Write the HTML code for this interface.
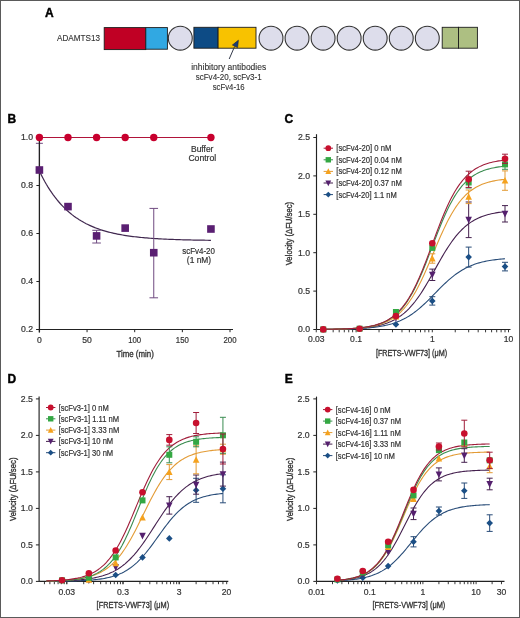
<!DOCTYPE html>
<html><head><meta charset="utf-8"><style>
html,body{margin:0;padding:0;background:#fff;overflow:hidden;}
svg{display:block;font-family:"Liberation Sans", sans-serif;will-change:transform;}
text{stroke:#333;stroke-width:0.2px;}
</style></head><body>
<svg width="520" height="618" viewBox="0 0 520 618">
<rect x="0" y="0" width="520" height="618" fill="#fff"/>
<text x="44.90" y="16.80" font-size="12" text-anchor="start" font-weight="bold" fill="#000" style="stroke:#000;stroke-width:0.4px">A</text>
<text x="57.00" y="40.90" font-size="8.6" text-anchor="start" font-weight="normal" fill="#333" textLength="43" lengthAdjust="spacingAndGlyphs" style="stroke-width:0.12px">ADAMTS13</text>
<rect x="104.20" y="27.60" width="41.60" height="22.00" fill="#C00024" stroke="#1c1c1c" stroke-width="0.9"/>
<rect x="145.80" y="27.60" width="21.60" height="21.60" fill="#31A8E2" stroke="#1c1c1c" stroke-width="0.9"/>
<circle cx="180.30" cy="38.15" r="11.95" fill="#DDDDEB" stroke="#333" stroke-width="1.1"/>
<rect x="193.90" y="27.30" width="24.20" height="20.90" fill="#0D4B85" stroke="#1c1c1c" stroke-width="0.9"/>
<rect x="218.10" y="27.30" width="37.90" height="20.90" fill="#F8C200" stroke="#1c1c1c" stroke-width="0.9"/>
<circle cx="271.00" cy="38.15" r="11.95" fill="#DDDDEB" stroke="#333" stroke-width="1.1"/>
<circle cx="297.05" cy="38.15" r="11.95" fill="#DDDDEB" stroke="#333" stroke-width="1.1"/>
<circle cx="323.10" cy="38.15" r="11.95" fill="#DDDDEB" stroke="#333" stroke-width="1.1"/>
<circle cx="349.15" cy="38.15" r="11.95" fill="#DDDDEB" stroke="#333" stroke-width="1.1"/>
<circle cx="375.20" cy="38.15" r="11.95" fill="#DDDDEB" stroke="#333" stroke-width="1.1"/>
<circle cx="401.25" cy="38.15" r="11.95" fill="#DDDDEB" stroke="#333" stroke-width="1.1"/>
<circle cx="427.30" cy="38.15" r="11.95" fill="#DDDDEB" stroke="#333" stroke-width="1.1"/>
<rect x="442.20" y="27.30" width="16.30" height="20.90" fill="#ADBF82" stroke="#1c1c1c" stroke-width="0.9"/>
<rect x="458.50" y="27.30" width="18.90" height="20.90" fill="#ADBF82" stroke="#1c1c1c" stroke-width="0.9"/>
<line x1="229.20" y1="59.00" x2="234.60" y2="46.50" stroke="#33394a" stroke-width="1"/>
<polygon points="238.4,40.2 232.4,45.0 237.6,47.6" fill="#1B3E7A" stroke="#1a2030" stroke-width="0.6"/>
<text x="228.70" y="70.00" font-size="8.6" text-anchor="middle" font-weight="normal" fill="#333" textLength="75" lengthAdjust="spacingAndGlyphs" style="stroke-width:0.12px">inhibitory antibodies</text>
<text x="228.70" y="79.60" font-size="8.6" text-anchor="middle" font-weight="normal" fill="#333" textLength="66" lengthAdjust="spacingAndGlyphs" style="stroke-width:0.12px">scFv4-20, scFv3-1</text>
<text x="228.70" y="89.60" font-size="8.6" text-anchor="middle" font-weight="normal" fill="#333" textLength="32" lengthAdjust="spacingAndGlyphs" style="stroke-width:0.12px">scFv4-16</text>
<text x="7.60" y="122.80" font-size="12" text-anchor="start" font-weight="bold" fill="#000" style="stroke:#000;stroke-width:0.4px">B</text>
<line x1="39.40" y1="143.30" x2="39.40" y2="170.00" stroke="#6f4a80" stroke-width="1"/>
<line x1="35.90" y1="143.30" x2="42.90" y2="143.30" stroke="#6f4a80" stroke-width="1"/>
<line x1="35.90" y1="170.00" x2="42.90" y2="170.00" stroke="#6f4a80" stroke-width="1"/>
<line x1="39.40" y1="137.30" x2="39.40" y2="332.50" stroke="#222" stroke-width="1.3"/>
<line x1="36.20" y1="329.50" x2="233.00" y2="329.50" stroke="#222" stroke-width="1.1"/>
<line x1="36.40" y1="137.50" x2="39.40" y2="137.50" stroke="#222" stroke-width="1"/>
<text x="33.10" y="140.30" font-size="8.6" text-anchor="end" font-weight="normal" fill="#333" textLength="12.1" lengthAdjust="spacingAndGlyphs" >1.0</text>
<line x1="36.40" y1="185.50" x2="39.40" y2="185.50" stroke="#222" stroke-width="1"/>
<text x="33.10" y="188.30" font-size="8.6" text-anchor="end" font-weight="normal" fill="#333" textLength="12.1" lengthAdjust="spacingAndGlyphs" >0.8</text>
<line x1="36.40" y1="233.50" x2="39.40" y2="233.50" stroke="#222" stroke-width="1"/>
<text x="33.10" y="236.30" font-size="8.6" text-anchor="end" font-weight="normal" fill="#333" textLength="12.1" lengthAdjust="spacingAndGlyphs" >0.6</text>
<line x1="36.40" y1="281.50" x2="39.40" y2="281.50" stroke="#222" stroke-width="1"/>
<text x="33.10" y="284.30" font-size="8.6" text-anchor="end" font-weight="normal" fill="#333" textLength="12.1" lengthAdjust="spacingAndGlyphs" >0.4</text>
<line x1="36.40" y1="329.50" x2="39.40" y2="329.50" stroke="#222" stroke-width="1"/>
<text x="33.10" y="332.30" font-size="8.6" text-anchor="end" font-weight="normal" fill="#333" textLength="12.1" lengthAdjust="spacingAndGlyphs" >0.2</text>
<line x1="39.40" y1="329.50" x2="39.40" y2="332.20" stroke="#222" stroke-width="1"/>
<text x="39.40" y="342.90" font-size="8.6" text-anchor="middle" font-weight="normal" fill="#333" >0</text>
<line x1="87.05" y1="329.50" x2="87.05" y2="332.20" stroke="#222" stroke-width="1"/>
<text x="87.05" y="342.90" font-size="8.6" text-anchor="middle" font-weight="normal" fill="#333" >50</text>
<line x1="134.70" y1="329.50" x2="134.70" y2="332.20" stroke="#222" stroke-width="1"/>
<text x="134.70" y="342.90" font-size="8.6" text-anchor="middle" font-weight="normal" fill="#333" textLength="13.0" lengthAdjust="spacingAndGlyphs" >100</text>
<line x1="182.35" y1="329.50" x2="182.35" y2="332.20" stroke="#222" stroke-width="1"/>
<text x="182.35" y="342.90" font-size="8.6" text-anchor="middle" font-weight="normal" fill="#333" textLength="13.0" lengthAdjust="spacingAndGlyphs" >150</text>
<line x1="230.00" y1="329.50" x2="230.00" y2="332.20" stroke="#222" stroke-width="1"/>
<text x="230.00" y="342.90" font-size="8.6" text-anchor="middle" font-weight="normal" fill="#333" textLength="13.0" lengthAdjust="spacingAndGlyphs" >200</text>
<text x="135.10" y="356.50" font-size="9.3" text-anchor="middle" font-weight="normal" fill="#333" textLength="37.4" lengthAdjust="spacingAndGlyphs" style="stroke-width:0.35px">Time (min)</text>
<line x1="39.40" y1="137.50" x2="210.94" y2="137.50" stroke="#B0143A" stroke-width="1.1"/>
<circle cx="39.40" cy="137.50" r="3.70" fill="#C8002E"/>
<circle cx="67.99" cy="137.50" r="3.70" fill="#C8002E"/>
<circle cx="96.58" cy="137.50" r="3.70" fill="#C8002E"/>
<circle cx="125.17" cy="137.50" r="3.70" fill="#C8002E"/>
<circle cx="153.76" cy="137.50" r="3.70" fill="#C8002E"/>
<circle cx="210.94" cy="137.50" r="3.70" fill="#C8002E"/>
<path d="M39.40,171.10 L41.13,174.64 L42.87,178.00 L44.60,181.19 L46.33,184.21 L48.06,187.08 L49.80,189.81 L51.53,192.40 L53.26,194.85 L54.99,197.18 L56.73,199.40 L58.46,201.50 L60.19,203.49 L61.93,205.38 L63.66,207.18 L65.39,208.88 L67.12,210.50 L68.86,212.04 L70.59,213.49 L72.32,214.88 L74.05,216.19 L75.79,217.44 L77.52,218.62 L79.25,219.74 L80.99,220.81 L82.72,221.82 L84.45,222.78 L86.18,223.69 L87.92,224.55 L89.65,225.37 L91.38,226.15 L93.11,226.89 L94.85,227.60 L96.58,228.26 L98.31,228.89 L100.05,229.49 L101.78,230.06 L103.51,230.61 L105.24,231.12 L106.98,231.61 L108.71,232.07 L110.44,232.51 L112.17,232.92 L113.91,233.32 L115.64,233.69 L117.37,234.05 L119.11,234.39 L120.84,234.71 L122.57,235.01 L124.30,235.30 L126.04,235.58 L127.77,235.84 L129.50,236.09 L131.23,236.32 L132.97,236.54 L134.70,236.75 L136.43,236.95 L138.17,237.14 L139.90,237.33 L141.63,237.50 L143.36,237.66 L145.10,237.81 L146.83,237.96 L148.56,238.10 L150.29,238.23 L152.03,238.36 L153.76,238.48 L155.49,238.59 L157.23,238.70 L158.96,238.80 L160.69,238.90 L162.42,238.99 L164.16,239.07 L165.89,239.16 L167.62,239.24 L169.35,239.31 L171.09,239.38 L172.82,239.45 L174.55,239.51 L176.29,239.57 L178.02,239.63 L179.75,239.68 L181.48,239.74 L183.22,239.78 L184.95,239.83 L186.68,239.88 L188.41,239.92 L190.15,239.96 L191.88,239.99 L193.61,240.03 L195.35,240.06 L197.08,240.10 L198.81,240.13 L200.54,240.16 L202.28,240.18 L204.01,240.21 L205.74,240.24 L207.47,240.26 L209.21,240.28 L210.94,240.30" fill="none" stroke="#40284f" stroke-width="1.2"/>
<line x1="96.58" y1="230.30" x2="96.58" y2="243.00" stroke="#6f4a80" stroke-width="1"/>
<line x1="92.28" y1="230.30" x2="100.88" y2="230.30" stroke="#6f4a80" stroke-width="1"/>
<line x1="92.28" y1="243.00" x2="100.88" y2="243.00" stroke="#6f4a80" stroke-width="1"/>
<line x1="153.76" y1="208.40" x2="153.76" y2="297.80" stroke="#6f4a80" stroke-width="1"/>
<line x1="149.46" y1="208.40" x2="158.06" y2="208.40" stroke="#6f4a80" stroke-width="1"/>
<line x1="149.46" y1="297.80" x2="158.06" y2="297.80" stroke="#6f4a80" stroke-width="1"/>
<rect x="35.60" y="166.20" width="7.60" height="7.60" fill="#5A1F72"/>
<rect x="64.19" y="202.80" width="7.60" height="7.60" fill="#5A1F72"/>
<rect x="92.78" y="232.10" width="7.60" height="7.60" fill="#5A1F72"/>
<rect x="121.37" y="224.30" width="7.60" height="7.60" fill="#5A1F72"/>
<rect x="149.96" y="248.90" width="7.60" height="7.60" fill="#5A1F72"/>
<rect x="207.14" y="225.20" width="7.60" height="7.60" fill="#5A1F72"/>
<text x="202.20" y="151.80" font-size="8.6" text-anchor="middle" font-weight="normal" fill="#333" textLength="22.4" lengthAdjust="spacingAndGlyphs" >Buffer</text>
<text x="202.30" y="161.30" font-size="8.6" text-anchor="middle" font-weight="normal" fill="#333" textLength="27.8" lengthAdjust="spacingAndGlyphs" >Control</text>
<text x="198.60" y="254.00" font-size="8.5" text-anchor="middle" font-weight="normal" fill="#333" textLength="32.6" lengthAdjust="spacingAndGlyphs" >scFv4-20</text>
<text x="199.00" y="262.90" font-size="8.5" text-anchor="middle" font-weight="normal" fill="#333" textLength="24.3" lengthAdjust="spacingAndGlyphs" >(1 nM)</text>
<text x="284.50" y="122.70" font-size="12" text-anchor="start" font-weight="bold" fill="#000" style="stroke:#000;stroke-width:0.4px">C</text>
<line x1="316.50" y1="134.20" x2="316.50" y2="329.50" stroke="#222" stroke-width="1.15"/>
<line x1="316.50" y1="329.50" x2="510.50" y2="329.50" stroke="#222" stroke-width="1.1"/>
<line x1="313.30" y1="329.50" x2="316.50" y2="329.50" stroke="#222" stroke-width="1"/>
<text x="310.00" y="332.30" font-size="8.6" text-anchor="end" font-weight="normal" fill="#333" textLength="12.1" lengthAdjust="spacingAndGlyphs" >0.0</text>
<line x1="313.30" y1="291.10" x2="316.50" y2="291.10" stroke="#222" stroke-width="1"/>
<text x="310.00" y="293.90" font-size="8.6" text-anchor="end" font-weight="normal" fill="#333" textLength="12.1" lengthAdjust="spacingAndGlyphs" >0.5</text>
<line x1="313.30" y1="252.70" x2="316.50" y2="252.70" stroke="#222" stroke-width="1"/>
<text x="310.00" y="255.50" font-size="8.6" text-anchor="end" font-weight="normal" fill="#333" textLength="12.1" lengthAdjust="spacingAndGlyphs" >1.0</text>
<line x1="313.30" y1="214.30" x2="316.50" y2="214.30" stroke="#222" stroke-width="1"/>
<text x="310.00" y="217.10" font-size="8.6" text-anchor="end" font-weight="normal" fill="#333" textLength="12.1" lengthAdjust="spacingAndGlyphs" >1.5</text>
<line x1="313.30" y1="175.90" x2="316.50" y2="175.90" stroke="#222" stroke-width="1"/>
<text x="310.00" y="178.70" font-size="8.6" text-anchor="end" font-weight="normal" fill="#333" textLength="12.1" lengthAdjust="spacingAndGlyphs" >2.0</text>
<line x1="313.30" y1="137.50" x2="316.50" y2="137.50" stroke="#222" stroke-width="1"/>
<text x="310.00" y="140.30" font-size="8.6" text-anchor="end" font-weight="normal" fill="#333" textLength="12.1" lengthAdjust="spacingAndGlyphs" >2.5</text>
<line x1="316.26" y1="329.50" x2="316.26" y2="332.30" stroke="#222" stroke-width="0.9"/>
<line x1="325.78" y1="329.50" x2="325.78" y2="332.30" stroke="#222" stroke-width="0.9"/>
<line x1="333.16" y1="329.50" x2="333.16" y2="332.30" stroke="#222" stroke-width="0.9"/>
<line x1="339.20" y1="329.50" x2="339.20" y2="332.30" stroke="#222" stroke-width="0.9"/>
<line x1="344.30" y1="329.50" x2="344.30" y2="332.30" stroke="#222" stroke-width="0.9"/>
<line x1="348.72" y1="329.50" x2="348.72" y2="332.30" stroke="#222" stroke-width="0.9"/>
<line x1="352.61" y1="329.50" x2="352.61" y2="332.30" stroke="#222" stroke-width="0.9"/>
<line x1="356.10" y1="329.50" x2="356.10" y2="332.30" stroke="#222" stroke-width="0.9"/>
<line x1="379.04" y1="329.50" x2="379.04" y2="332.30" stroke="#222" stroke-width="0.9"/>
<line x1="392.46" y1="329.50" x2="392.46" y2="332.30" stroke="#222" stroke-width="0.9"/>
<line x1="401.98" y1="329.50" x2="401.98" y2="332.30" stroke="#222" stroke-width="0.9"/>
<line x1="409.36" y1="329.50" x2="409.36" y2="332.30" stroke="#222" stroke-width="0.9"/>
<line x1="415.40" y1="329.50" x2="415.40" y2="332.30" stroke="#222" stroke-width="0.9"/>
<line x1="420.50" y1="329.50" x2="420.50" y2="332.30" stroke="#222" stroke-width="0.9"/>
<line x1="424.92" y1="329.50" x2="424.92" y2="332.30" stroke="#222" stroke-width="0.9"/>
<line x1="428.81" y1="329.50" x2="428.81" y2="332.30" stroke="#222" stroke-width="0.9"/>
<line x1="432.30" y1="329.50" x2="432.30" y2="332.30" stroke="#222" stroke-width="0.9"/>
<line x1="455.24" y1="329.50" x2="455.24" y2="332.30" stroke="#222" stroke-width="0.9"/>
<line x1="468.66" y1="329.50" x2="468.66" y2="332.30" stroke="#222" stroke-width="0.9"/>
<line x1="478.18" y1="329.50" x2="478.18" y2="332.30" stroke="#222" stroke-width="0.9"/>
<line x1="485.56" y1="329.50" x2="485.56" y2="332.30" stroke="#222" stroke-width="0.9"/>
<line x1="491.60" y1="329.50" x2="491.60" y2="332.30" stroke="#222" stroke-width="0.9"/>
<line x1="496.70" y1="329.50" x2="496.70" y2="332.30" stroke="#222" stroke-width="0.9"/>
<line x1="501.12" y1="329.50" x2="501.12" y2="332.30" stroke="#222" stroke-width="0.9"/>
<line x1="505.01" y1="329.50" x2="505.01" y2="332.30" stroke="#222" stroke-width="0.9"/>
<line x1="508.50" y1="329.50" x2="508.50" y2="332.30" stroke="#222" stroke-width="0.9"/>
<text x="316.26" y="342.40" font-size="8.6" text-anchor="middle" font-weight="normal" fill="#333" >0.03</text>
<text x="356.10" y="342.40" font-size="8.6" text-anchor="middle" font-weight="normal" fill="#333" >0.1</text>
<text x="432.30" y="342.40" font-size="8.6" text-anchor="middle" font-weight="normal" fill="#333" >1</text>
<text x="508.50" y="342.40" font-size="8.6" text-anchor="middle" font-weight="normal" fill="#333" >10</text>
<text x="411.50" y="356.30" font-size="9.3" text-anchor="middle" font-weight="normal" fill="#333" textLength="71.2" lengthAdjust="spacingAndGlyphs" style="stroke-width:0.35px">[FRETS-VWF73] (μM)</text>
<text x="0" y="0" font-size="9.3" text-anchor="middle" fill="#333" textLength="63.5" lengthAdjust="spacingAndGlyphs" style="stroke-width:0.35px" transform="translate(292.30,233.60) rotate(-90)">Velocity (ΔFU/sec)</text>
<path d="M323.23,329.37 L324.76,329.36 L326.29,329.35 L327.81,329.34 L329.34,329.32 L330.87,329.31 L332.40,329.29 L333.92,329.27 L335.45,329.25 L336.98,329.23 L338.51,329.20 L340.03,329.17 L341.56,329.15 L343.09,329.11 L344.62,329.08 L346.14,329.04 L347.67,329.00 L349.20,328.95 L350.73,328.90 L352.25,328.85 L353.78,328.79 L355.31,328.73 L356.84,328.66 L358.36,328.58 L359.89,328.50 L361.42,328.41 L362.95,328.32 L364.48,328.21 L366.00,328.10 L367.53,327.97 L369.06,327.84 L370.59,327.69 L372.11,327.53 L373.64,327.35 L375.17,327.17 L376.70,326.96 L378.22,326.74 L379.75,326.50 L381.28,326.24 L382.81,325.96 L384.33,325.65 L385.86,325.33 L387.39,324.97 L388.92,324.59 L390.44,324.17 L391.97,323.73 L393.50,323.25 L395.03,322.74 L396.55,322.19 L398.08,321.59 L399.61,320.96 L401.14,320.29 L402.66,319.56 L404.19,318.80 L405.72,317.98 L407.25,317.11 L408.78,316.20 L410.30,315.23 L411.83,314.21 L413.36,313.14 L414.89,312.01 L416.41,310.84 L417.94,309.61 L419.47,308.33 L421.00,307.01 L422.52,305.65 L424.05,304.24 L425.58,302.80 L427.11,301.32 L428.63,299.82 L430.16,298.29 L431.69,296.75 L433.22,295.19 L434.74,293.63 L436.27,292.06 L437.80,290.51 L439.33,288.96 L440.85,287.43 L442.38,285.92 L443.91,284.44 L445.44,282.99 L446.96,281.58 L448.49,280.21 L450.02,278.88 L451.55,277.59 L453.08,276.36 L454.60,275.17 L456.13,274.04 L457.66,272.96 L459.19,271.93 L460.71,270.95 L462.24,270.02 L463.77,269.15 L465.30,268.32 L466.82,267.55 L468.35,266.82 L469.88,266.14 L471.41,265.50 L472.93,264.90 L474.46,264.34 L475.99,263.82 L477.52,263.33 L479.04,262.88 L480.57,262.47 L482.10,262.08 L483.63,261.72 L485.15,261.38 L486.68,261.08 L488.21,260.79 L489.74,260.53 L491.26,260.28 L492.79,260.06 L494.32,259.85 L495.85,259.66 L497.38,259.48 L498.90,259.32 L500.43,259.17 L501.96,259.03 L503.49,258.91 L505.01,258.79" fill="none" stroke="#284C78" stroke-width="1.1"/>
<path d="M323.23,329.35 L324.76,329.34 L326.29,329.32 L327.81,329.31 L329.34,329.29 L330.87,329.27 L332.40,329.25 L333.92,329.22 L335.45,329.19 L336.98,329.16 L338.51,329.13 L340.03,329.10 L341.56,329.06 L343.09,329.02 L344.62,328.97 L346.14,328.92 L347.67,328.86 L349.20,328.80 L350.73,328.74 L352.25,328.66 L353.78,328.59 L355.31,328.50 L356.84,328.40 L358.36,328.30 L359.89,328.18 L361.42,328.06 L362.95,327.92 L364.48,327.77 L366.00,327.61 L367.53,327.43 L369.06,327.24 L370.59,327.02 L372.11,326.79 L373.64,326.54 L375.17,326.26 L376.70,325.96 L378.22,325.63 L379.75,325.27 L381.28,324.88 L382.81,324.46 L384.33,324.00 L385.86,323.49 L387.39,322.95 L388.92,322.36 L390.44,321.72 L391.97,321.02 L393.50,320.27 L395.03,319.46 L396.55,318.58 L398.08,317.64 L399.61,316.62 L401.14,315.53 L402.66,314.36 L404.19,313.10 L405.72,311.76 L407.25,310.33 L408.78,308.81 L410.30,307.19 L411.83,305.48 L413.36,303.67 L414.89,301.76 L416.41,299.76 L417.94,297.67 L419.47,295.48 L421.00,293.20 L422.52,290.84 L424.05,288.41 L425.58,285.90 L427.11,283.33 L428.63,280.70 L430.16,278.03 L431.69,275.33 L433.22,272.60 L434.74,269.86 L436.27,267.12 L437.80,264.39 L439.33,261.69 L440.85,259.01 L442.38,256.38 L443.91,253.80 L445.44,251.29 L446.96,248.84 L448.49,246.47 L450.02,244.19 L451.55,241.99 L453.08,239.88 L454.60,237.87 L456.13,235.95 L457.66,234.13 L459.19,232.41 L460.71,230.78 L462.24,229.25 L463.77,227.81 L465.30,226.46 L466.82,225.19 L468.35,224.01 L469.88,222.91 L471.41,221.88 L472.93,220.93 L474.46,220.04 L475.99,219.23 L477.52,218.47 L479.04,217.77 L480.57,217.12 L482.10,216.52 L483.63,215.97 L485.15,215.46 L486.68,215.00 L488.21,214.57 L489.74,214.17 L491.26,213.81 L492.79,213.48 L494.32,213.17 L495.85,212.90 L497.38,212.64 L498.90,212.40 L500.43,212.19 L501.96,211.99 L503.49,211.81 L505.01,211.65" fill="none" stroke="#45214F" stroke-width="1.1"/>
<path d="M323.23,329.35 L324.76,329.33 L326.29,329.32 L327.81,329.30 L329.34,329.28 L330.87,329.25 L332.40,329.23 L333.92,329.20 L335.45,329.17 L336.98,329.14 L338.51,329.10 L340.03,329.06 L341.56,329.02 L343.09,328.97 L344.62,328.92 L346.14,328.86 L347.67,328.80 L349.20,328.72 L350.73,328.65 L352.25,328.56 L353.78,328.47 L355.31,328.36 L356.84,328.25 L358.36,328.13 L359.89,327.99 L361.42,327.84 L362.95,327.67 L364.48,327.49 L366.00,327.29 L367.53,327.07 L369.06,326.83 L370.59,326.57 L372.11,326.28 L373.64,325.97 L375.17,325.62 L376.70,325.24 L378.22,324.82 L379.75,324.37 L381.28,323.87 L382.81,323.33 L384.33,322.74 L385.86,322.09 L387.39,321.38 L388.92,320.61 L390.44,319.77 L391.97,318.86 L393.50,317.87 L395.03,316.80 L396.55,315.64 L398.08,314.38 L399.61,313.03 L401.14,311.56 L402.66,309.99 L404.19,308.30 L405.72,306.49 L407.25,304.55 L408.78,302.49 L410.30,300.29 L411.83,297.96 L413.36,295.50 L414.89,292.90 L416.41,290.17 L417.94,287.31 L419.47,284.33 L421.00,281.23 L422.52,278.01 L424.05,274.70 L425.58,271.30 L427.11,267.82 L428.63,264.28 L430.16,260.69 L431.69,257.06 L433.22,253.42 L434.74,249.78 L436.27,246.16 L437.80,242.58 L439.33,239.04 L440.85,235.56 L442.38,232.17 L443.91,228.86 L445.44,225.66 L446.96,222.57 L448.49,219.59 L450.02,216.75 L451.55,214.03 L453.08,211.44 L454.60,208.99 L456.13,206.67 L457.66,204.48 L459.19,202.43 L460.71,200.50 L462.24,198.70 L463.77,197.02 L465.30,195.46 L466.82,194.01 L468.35,192.66 L469.88,191.41 L471.41,190.26 L472.93,189.19 L474.46,188.21 L475.99,187.30 L477.52,186.47 L479.04,185.71 L480.57,185.01 L482.10,184.36 L483.63,183.77 L485.15,183.24 L486.68,182.74 L488.21,182.29 L489.74,181.88 L491.26,181.50 L492.79,181.16 L494.32,180.84 L495.85,180.56 L497.38,180.30 L498.90,180.06 L500.43,179.84 L501.96,179.64 L503.49,179.46 L505.01,179.30" fill="none" stroke="#E39B35" stroke-width="1.1"/>
<path d="M323.23,329.34 L324.76,329.32 L326.29,329.30 L327.81,329.28 L329.34,329.26 L330.87,329.24 L332.40,329.21 L333.92,329.18 L335.45,329.15 L336.98,329.11 L338.51,329.07 L340.03,329.03 L341.56,328.98 L343.09,328.93 L344.62,328.87 L346.14,328.81 L347.67,328.74 L349.20,328.66 L350.73,328.57 L352.25,328.48 L353.78,328.38 L355.31,328.26 L356.84,328.14 L358.36,328.00 L359.89,327.85 L361.42,327.68 L362.95,327.50 L364.48,327.30 L366.00,327.08 L367.53,326.83 L369.06,326.57 L370.59,326.27 L372.11,325.95 L373.64,325.60 L375.17,325.21 L376.70,324.78 L378.22,324.32 L379.75,323.81 L381.28,323.25 L382.81,322.63 L384.33,321.97 L385.86,321.24 L387.39,320.44 L388.92,319.57 L390.44,318.62 L391.97,317.59 L393.50,316.47 L395.03,315.26 L396.55,313.94 L398.08,312.52 L399.61,310.98 L401.14,309.32 L402.66,307.54 L404.19,305.62 L405.72,303.57 L407.25,301.37 L408.78,299.03 L410.30,296.54 L411.83,293.91 L413.36,291.12 L414.89,288.18 L416.41,285.10 L417.94,281.88 L419.47,278.52 L421.00,275.04 L422.52,271.44 L424.05,267.73 L425.58,263.93 L427.11,260.06 L428.63,256.12 L430.16,252.15 L431.69,248.15 L433.22,244.14 L434.74,240.15 L436.27,236.19 L437.80,232.28 L439.33,228.44 L440.85,224.68 L442.38,221.02 L443.91,217.47 L445.44,214.04 L446.96,210.74 L448.49,207.58 L450.02,204.57 L451.55,201.70 L453.08,198.98 L454.60,196.40 L456.13,193.98 L457.66,191.71 L459.19,189.58 L460.71,187.58 L462.24,185.73 L463.77,184.00 L465.30,182.39 L466.82,180.91 L468.35,179.53 L469.88,178.26 L471.41,177.09 L472.93,176.01 L474.46,175.02 L475.99,174.11 L477.52,173.27 L479.04,172.51 L480.57,171.80 L482.10,171.16 L483.63,170.57 L485.15,170.04 L486.68,169.55 L488.21,169.10 L489.74,168.69 L491.26,168.32 L492.79,167.98 L494.32,167.67 L495.85,167.39 L497.38,167.13 L498.90,166.90 L500.43,166.69 L501.96,166.49 L503.49,166.32 L505.01,166.16" fill="none" stroke="#3A8C50" stroke-width="1.1"/>
<path d="M323.23,329.33 L324.76,329.31 L326.29,329.29 L327.81,329.27 L329.34,329.25 L330.87,329.23 L332.40,329.20 L333.92,329.17 L335.45,329.13 L336.98,329.10 L338.51,329.05 L340.03,329.01 L341.56,328.96 L343.09,328.90 L344.62,328.84 L346.14,328.78 L347.67,328.71 L349.20,328.62 L350.73,328.54 L352.25,328.44 L353.78,328.33 L355.31,328.21 L356.84,328.08 L358.36,327.94 L359.89,327.79 L361.42,327.61 L362.95,327.42 L364.48,327.22 L366.00,326.99 L367.53,326.74 L369.06,326.46 L370.59,326.16 L372.11,325.82 L373.64,325.46 L375.17,325.06 L376.70,324.62 L378.22,324.14 L379.75,323.61 L381.28,323.04 L382.81,322.41 L384.33,321.72 L385.86,320.97 L387.39,320.15 L388.92,319.26 L390.44,318.29 L391.97,317.23 L393.50,316.08 L395.03,314.83 L396.55,313.48 L398.08,312.02 L399.61,310.44 L401.14,308.74 L402.66,306.91 L404.19,304.94 L405.72,302.83 L407.25,300.58 L408.78,298.18 L410.30,295.63 L411.83,292.92 L413.36,290.06 L414.89,287.05 L416.41,283.89 L417.94,280.58 L419.47,277.13 L421.00,273.55 L422.52,269.84 L424.05,266.03 L425.58,262.12 L427.11,258.13 L428.63,254.07 L430.16,249.97 L431.69,245.84 L433.22,241.70 L434.74,237.57 L436.27,233.48 L437.80,229.43 L439.33,225.44 L440.85,221.54 L442.38,217.74 L443.91,214.04 L445.44,210.47 L446.96,207.03 L448.49,203.74 L450.02,200.59 L451.55,197.59 L453.08,194.74 L454.60,192.05 L456.13,189.51 L457.66,187.12 L459.19,184.89 L460.71,182.79 L462.24,180.84 L463.77,179.02 L465.30,177.33 L466.82,175.76 L468.35,174.31 L469.88,172.97 L471.41,171.73 L472.93,170.59 L474.46,169.54 L475.99,168.57 L477.52,167.69 L479.04,166.88 L480.57,166.13 L482.10,165.45 L483.63,164.82 L485.15,164.25 L486.68,163.73 L488.21,163.25 L489.74,162.82 L491.26,162.42 L492.79,162.06 L494.32,161.73 L495.85,161.43 L497.38,161.16 L498.90,160.91 L500.43,160.68 L501.96,160.48 L503.49,160.29 L505.01,160.12" fill="none" stroke="#A01D3A" stroke-width="1.1"/>
<polygon points="395.94,321.10 399.24,324.40 395.94,327.70 392.64,324.40" fill="#1B4F86"/>
<line x1="432.30" y1="296.70" x2="432.30" y2="305.10" stroke="#284C78" stroke-width="1"/>
<line x1="429.30" y1="296.70" x2="435.30" y2="296.70" stroke="#284C78" stroke-width="1"/>
<line x1="429.30" y1="305.10" x2="435.30" y2="305.10" stroke="#284C78" stroke-width="1"/>
<polygon points="432.30,297.60 435.60,300.90 432.30,304.20 429.00,300.90" fill="#1B4F86"/>
<line x1="468.66" y1="247.10" x2="468.66" y2="267.10" stroke="#284C78" stroke-width="1"/>
<line x1="465.66" y1="247.10" x2="471.66" y2="247.10" stroke="#284C78" stroke-width="1"/>
<line x1="465.66" y1="267.10" x2="471.66" y2="267.10" stroke="#284C78" stroke-width="1"/>
<polygon points="468.66,253.80 471.96,257.10 468.66,260.40 465.36,257.10" fill="#1B4F86"/>
<line x1="505.01" y1="262.30" x2="505.01" y2="270.90" stroke="#284C78" stroke-width="1"/>
<line x1="502.01" y1="262.30" x2="508.01" y2="262.30" stroke="#284C78" stroke-width="1"/>
<line x1="502.01" y1="270.90" x2="508.01" y2="270.90" stroke="#284C78" stroke-width="1"/>
<polygon points="505.01,263.30 508.31,266.60 505.01,269.90 501.71,266.60" fill="#1B4F86"/>
<polygon points="395.94,321.63 399.24,315.03 392.64,315.03" fill="#55206E"/>
<line x1="432.30" y1="269.10" x2="432.30" y2="280.50" stroke="#45214F" stroke-width="1"/>
<line x1="429.30" y1="269.10" x2="435.30" y2="269.10" stroke="#45214F" stroke-width="1"/>
<line x1="429.30" y1="280.50" x2="435.30" y2="280.50" stroke="#45214F" stroke-width="1"/>
<polygon points="432.30,278.43 435.60,271.83 429.00,271.83" fill="#55206E"/>
<line x1="468.66" y1="202.00" x2="468.66" y2="237.60" stroke="#45214F" stroke-width="1"/>
<line x1="465.66" y1="202.00" x2="471.66" y2="202.00" stroke="#45214F" stroke-width="1"/>
<line x1="465.66" y1="237.60" x2="471.66" y2="237.60" stroke="#45214F" stroke-width="1"/>
<polygon points="468.66,223.43 471.96,216.83 465.36,216.83" fill="#55206E"/>
<line x1="505.01" y1="205.60" x2="505.01" y2="222.00" stroke="#45214F" stroke-width="1"/>
<line x1="502.01" y1="205.60" x2="508.01" y2="205.60" stroke="#45214F" stroke-width="1"/>
<line x1="502.01" y1="222.00" x2="508.01" y2="222.00" stroke="#45214F" stroke-width="1"/>
<polygon points="505.01,217.43 508.31,210.83 501.71,210.83" fill="#55206E"/>
<polygon points="395.94,312.87 399.24,319.47 392.64,319.47" fill="#F5A21E"/>
<line x1="432.30" y1="253.80" x2="432.30" y2="263.20" stroke="#E39B35" stroke-width="1"/>
<line x1="429.30" y1="253.80" x2="435.30" y2="253.80" stroke="#E39B35" stroke-width="1"/>
<line x1="429.30" y1="263.20" x2="435.30" y2="263.20" stroke="#E39B35" stroke-width="1"/>
<polygon points="432.30,254.87 435.60,261.47 429.00,261.47" fill="#F5A21E"/>
<line x1="468.66" y1="190.00" x2="468.66" y2="203.60" stroke="#E39B35" stroke-width="1"/>
<line x1="465.66" y1="190.00" x2="471.66" y2="190.00" stroke="#E39B35" stroke-width="1"/>
<line x1="465.66" y1="203.60" x2="471.66" y2="203.60" stroke="#E39B35" stroke-width="1"/>
<polygon points="468.66,193.17 471.96,199.77 465.36,199.77" fill="#F5A21E"/>
<line x1="505.01" y1="170.90" x2="505.01" y2="190.30" stroke="#E39B35" stroke-width="1"/>
<line x1="502.01" y1="170.90" x2="508.01" y2="170.90" stroke="#E39B35" stroke-width="1"/>
<line x1="502.01" y1="190.30" x2="508.01" y2="190.30" stroke="#E39B35" stroke-width="1"/>
<polygon points="505.01,176.97 508.31,183.57 501.71,183.57" fill="#F5A21E"/>
<rect x="320.23" y="326.40" width="6.00" height="6.00" fill="#34A843"/>
<rect x="356.59" y="325.70" width="6.00" height="6.00" fill="#34A843"/>
<rect x="392.94" y="309.00" width="6.00" height="6.00" fill="#34A843"/>
<rect x="429.30" y="244.90" width="6.00" height="6.00" fill="#34A843"/>
<line x1="468.66" y1="177.00" x2="468.66" y2="188.00" stroke="#3A8C50" stroke-width="1"/>
<line x1="465.66" y1="177.00" x2="471.66" y2="177.00" stroke="#3A8C50" stroke-width="1"/>
<line x1="465.66" y1="188.00" x2="471.66" y2="188.00" stroke="#3A8C50" stroke-width="1"/>
<rect x="465.66" y="179.50" width="6.00" height="6.00" fill="#34A843"/>
<line x1="505.01" y1="159.50" x2="505.01" y2="169.30" stroke="#3A8C50" stroke-width="1"/>
<line x1="502.01" y1="159.50" x2="508.01" y2="159.50" stroke="#3A8C50" stroke-width="1"/>
<line x1="502.01" y1="169.30" x2="508.01" y2="169.30" stroke="#3A8C50" stroke-width="1"/>
<rect x="502.01" y="161.40" width="6.00" height="6.00" fill="#34A843"/>
<circle cx="323.23" cy="329.40" r="3.30" fill="#C8102E"/>
<circle cx="359.59" cy="328.70" r="3.30" fill="#C8102E"/>
<circle cx="395.94" cy="316.00" r="3.30" fill="#C8102E"/>
<circle cx="432.30" cy="243.20" r="3.30" fill="#C8102E"/>
<line x1="468.66" y1="171.20" x2="468.66" y2="187.40" stroke="#A01D3A" stroke-width="1"/>
<line x1="465.66" y1="171.20" x2="471.66" y2="171.20" stroke="#A01D3A" stroke-width="1"/>
<line x1="465.66" y1="187.40" x2="471.66" y2="187.40" stroke="#A01D3A" stroke-width="1"/>
<circle cx="468.66" cy="179.30" r="3.30" fill="#C8102E"/>
<line x1="505.01" y1="154.20" x2="505.01" y2="163.40" stroke="#A01D3A" stroke-width="1"/>
<line x1="502.01" y1="154.20" x2="508.01" y2="154.20" stroke="#A01D3A" stroke-width="1"/>
<line x1="502.01" y1="163.40" x2="508.01" y2="163.40" stroke="#A01D3A" stroke-width="1"/>
<circle cx="505.01" cy="158.80" r="3.30" fill="#C8102E"/>
<line x1="323.60" y1="148.20" x2="333.00" y2="148.20" stroke="#A01D3A" stroke-width="1"/>
<circle cx="328.30" cy="148.20" r="2.90" fill="#C8102E"/>
<text x="336.30" y="151.20" font-size="8.7" text-anchor="start" font-weight="normal" fill="#333" textLength="55" lengthAdjust="spacingAndGlyphs" >[scFv4-20] 0 nM</text>
<line x1="323.60" y1="159.80" x2="333.00" y2="159.80" stroke="#3A8C50" stroke-width="1"/>
<rect x="325.60" y="157.10" width="5.40" height="5.40" fill="#34A843"/>
<text x="336.30" y="162.80" font-size="8.7" text-anchor="start" font-weight="normal" fill="#333" textLength="65.6" lengthAdjust="spacingAndGlyphs" >[scFv4-20] 0.04 nM</text>
<line x1="323.60" y1="171.40" x2="333.00" y2="171.40" stroke="#E39B35" stroke-width="1"/>
<polygon points="328.30,168.21 331.20,174.01 325.40,174.01" fill="#F5A21E"/>
<text x="336.30" y="174.40" font-size="8.7" text-anchor="start" font-weight="normal" fill="#333" textLength="65.6" lengthAdjust="spacingAndGlyphs" >[scFv4-20] 0.12 nM</text>
<line x1="323.60" y1="183.00" x2="333.00" y2="183.00" stroke="#45214F" stroke-width="1"/>
<polygon points="328.30,186.19 331.20,180.39 325.40,180.39" fill="#55206E"/>
<text x="336.30" y="186.00" font-size="8.7" text-anchor="start" font-weight="normal" fill="#333" textLength="65.6" lengthAdjust="spacingAndGlyphs" >[scFv4-20] 0.37 nM</text>
<line x1="323.60" y1="194.60" x2="333.00" y2="194.60" stroke="#284C78" stroke-width="1"/>
<polygon points="328.30,191.70 331.20,194.60 328.30,197.50 325.40,194.60" fill="#1B4F86"/>
<text x="336.30" y="197.60" font-size="8.7" text-anchor="start" font-weight="normal" fill="#333" textLength="60.6" lengthAdjust="spacingAndGlyphs" >[scFv4-20] 1.1 nM</text>
<text x="7.60" y="383.10" font-size="12" text-anchor="start" font-weight="bold" fill="#000" style="stroke:#000;stroke-width:0.4px">D</text>
<line x1="39.10" y1="396.60" x2="39.10" y2="581.40" stroke="#222" stroke-width="1.15"/>
<line x1="39.10" y1="581.40" x2="228.30" y2="581.40" stroke="#222" stroke-width="1.1"/>
<line x1="35.90" y1="581.40" x2="39.10" y2="581.40" stroke="#222" stroke-width="1"/>
<text x="32.90" y="584.20" font-size="8.6" text-anchor="end" font-weight="normal" fill="#333" textLength="12.1" lengthAdjust="spacingAndGlyphs" >0.0</text>
<line x1="35.90" y1="544.90" x2="39.10" y2="544.90" stroke="#222" stroke-width="1"/>
<text x="32.90" y="547.70" font-size="8.6" text-anchor="end" font-weight="normal" fill="#333" textLength="12.1" lengthAdjust="spacingAndGlyphs" >0.5</text>
<line x1="35.90" y1="508.40" x2="39.10" y2="508.40" stroke="#222" stroke-width="1"/>
<text x="32.90" y="511.20" font-size="8.6" text-anchor="end" font-weight="normal" fill="#333" textLength="12.1" lengthAdjust="spacingAndGlyphs" >1.0</text>
<line x1="35.90" y1="471.90" x2="39.10" y2="471.90" stroke="#222" stroke-width="1"/>
<text x="32.90" y="474.70" font-size="8.6" text-anchor="end" font-weight="normal" fill="#333" textLength="12.1" lengthAdjust="spacingAndGlyphs" >1.5</text>
<line x1="35.90" y1="435.40" x2="39.10" y2="435.40" stroke="#222" stroke-width="1"/>
<text x="32.90" y="438.20" font-size="8.6" text-anchor="end" font-weight="normal" fill="#333" textLength="12.1" lengthAdjust="spacingAndGlyphs" >2.0</text>
<line x1="35.90" y1="398.90" x2="39.10" y2="398.90" stroke="#222" stroke-width="1"/>
<text x="32.90" y="401.70" font-size="8.6" text-anchor="end" font-weight="normal" fill="#333" textLength="12.1" lengthAdjust="spacingAndGlyphs" >2.5</text>
<line x1="44.44" y1="581.40" x2="44.44" y2="584.20" stroke="#222" stroke-width="0.9"/>
<line x1="49.88" y1="581.40" x2="49.88" y2="584.20" stroke="#222" stroke-width="0.9"/>
<line x1="54.33" y1="581.40" x2="54.33" y2="584.20" stroke="#222" stroke-width="0.9"/>
<line x1="58.09" y1="581.40" x2="58.09" y2="584.20" stroke="#222" stroke-width="0.9"/>
<line x1="61.35" y1="581.40" x2="61.35" y2="584.20" stroke="#222" stroke-width="0.9"/>
<line x1="64.23" y1="581.40" x2="64.23" y2="584.20" stroke="#222" stroke-width="0.9"/>
<line x1="66.80" y1="581.40" x2="66.80" y2="584.20" stroke="#222" stroke-width="0.9"/>
<line x1="66.80" y1="581.40" x2="66.80" y2="584.20" stroke="#222" stroke-width="0.9"/>
<line x1="83.72" y1="581.40" x2="83.72" y2="584.20" stroke="#222" stroke-width="0.9"/>
<line x1="93.61" y1="581.40" x2="93.61" y2="584.20" stroke="#222" stroke-width="0.9"/>
<line x1="100.64" y1="581.40" x2="100.64" y2="584.20" stroke="#222" stroke-width="0.9"/>
<line x1="106.08" y1="581.40" x2="106.08" y2="584.20" stroke="#222" stroke-width="0.9"/>
<line x1="110.53" y1="581.40" x2="110.53" y2="584.20" stroke="#222" stroke-width="0.9"/>
<line x1="114.29" y1="581.40" x2="114.29" y2="584.20" stroke="#222" stroke-width="0.9"/>
<line x1="117.55" y1="581.40" x2="117.55" y2="584.20" stroke="#222" stroke-width="0.9"/>
<line x1="120.43" y1="581.40" x2="120.43" y2="584.20" stroke="#222" stroke-width="0.9"/>
<line x1="123.00" y1="581.40" x2="123.00" y2="584.20" stroke="#222" stroke-width="0.9"/>
<line x1="123.00" y1="581.40" x2="123.00" y2="584.20" stroke="#222" stroke-width="0.9"/>
<line x1="139.92" y1="581.40" x2="139.92" y2="584.20" stroke="#222" stroke-width="0.9"/>
<line x1="149.81" y1="581.40" x2="149.81" y2="584.20" stroke="#222" stroke-width="0.9"/>
<line x1="156.84" y1="581.40" x2="156.84" y2="584.20" stroke="#222" stroke-width="0.9"/>
<line x1="162.28" y1="581.40" x2="162.28" y2="584.20" stroke="#222" stroke-width="0.9"/>
<line x1="166.73" y1="581.40" x2="166.73" y2="584.20" stroke="#222" stroke-width="0.9"/>
<line x1="170.49" y1="581.40" x2="170.49" y2="584.20" stroke="#222" stroke-width="0.9"/>
<line x1="173.75" y1="581.40" x2="173.75" y2="584.20" stroke="#222" stroke-width="0.9"/>
<line x1="176.63" y1="581.40" x2="176.63" y2="584.20" stroke="#222" stroke-width="0.9"/>
<line x1="179.20" y1="581.40" x2="179.20" y2="584.20" stroke="#222" stroke-width="0.9"/>
<line x1="179.20" y1="581.40" x2="179.20" y2="584.20" stroke="#222" stroke-width="0.9"/>
<line x1="196.12" y1="581.40" x2="196.12" y2="584.20" stroke="#222" stroke-width="0.9"/>
<line x1="206.01" y1="581.40" x2="206.01" y2="584.20" stroke="#222" stroke-width="0.9"/>
<line x1="213.04" y1="581.40" x2="213.04" y2="584.20" stroke="#222" stroke-width="0.9"/>
<line x1="218.48" y1="581.40" x2="218.48" y2="584.20" stroke="#222" stroke-width="0.9"/>
<line x1="222.93" y1="581.40" x2="222.93" y2="584.20" stroke="#222" stroke-width="0.9"/>
<line x1="226.69" y1="581.40" x2="226.69" y2="584.20" stroke="#222" stroke-width="0.9"/>
<text x="66.80" y="594.80" font-size="8.6" text-anchor="middle" font-weight="normal" fill="#333" >0.03</text>
<text x="123.00" y="594.80" font-size="8.6" text-anchor="middle" font-weight="normal" fill="#333" >0.3</text>
<text x="179.20" y="594.80" font-size="8.6" text-anchor="middle" font-weight="normal" fill="#333" >3</text>
<text x="226.58" y="594.80" font-size="8.6" text-anchor="middle" font-weight="normal" fill="#333" >20</text>
<text x="132.90" y="608.20" font-size="9.3" text-anchor="middle" font-weight="normal" fill="#333" textLength="72.6" lengthAdjust="spacingAndGlyphs" style="stroke-width:0.35px">[FRETS-VWF73] (μM)</text>
<text x="0" y="0" font-size="9.3" text-anchor="middle" fill="#333" textLength="63.5" lengthAdjust="spacingAndGlyphs" style="stroke-width:0.35px" transform="translate(15.90,489.30) rotate(-90)">Velocity (ΔFU/sec)</text>
<path d="M46.39,581.32 L47.87,581.31 L49.36,581.30 L50.84,581.29 L52.32,581.28 L53.81,581.27 L55.29,581.26 L56.77,581.24 L58.26,581.23 L59.74,581.21 L61.22,581.19 L62.71,581.17 L64.19,581.15 L65.68,581.13 L67.16,581.10 L68.64,581.07 L70.13,581.04 L71.61,581.00 L73.09,580.96 L74.58,580.92 L76.06,580.87 L77.54,580.82 L79.03,580.77 L80.51,580.71 L81.99,580.64 L83.48,580.57 L84.96,580.49 L86.45,580.40 L87.93,580.30 L89.41,580.20 L90.90,580.08 L92.38,579.96 L93.86,579.82 L95.35,579.67 L96.83,579.50 L98.31,579.32 L99.80,579.12 L101.28,578.91 L102.76,578.67 L104.25,578.42 L105.73,578.14 L107.22,577.83 L108.70,577.50 L110.18,577.14 L111.67,576.74 L113.15,576.32 L114.63,575.85 L116.12,575.35 L117.60,574.80 L119.08,574.21 L120.57,573.57 L122.05,572.88 L123.53,572.14 L125.02,571.34 L126.50,570.48 L127.98,569.56 L129.47,568.57 L130.95,567.51 L132.44,566.39 L133.92,565.19 L135.40,563.92 L136.89,562.58 L138.37,561.16 L139.85,559.67 L141.34,558.10 L142.82,556.47 L144.30,554.76 L145.79,552.99 L147.27,551.16 L148.75,549.28 L150.24,547.34 L151.72,545.36 L153.21,543.34 L154.69,541.30 L156.17,539.24 L157.66,537.16 L159.14,535.09 L160.62,533.02 L162.11,530.96 L163.59,528.93 L165.07,526.94 L166.56,524.98 L168.04,523.07 L169.52,521.21 L171.01,519.41 L172.49,517.68 L173.97,516.01 L175.46,514.41 L176.94,512.89 L178.43,511.44 L179.91,510.06 L181.39,508.76 L182.88,507.53 L184.36,506.37 L185.84,505.28 L187.33,504.26 L188.81,503.31 L190.29,502.42 L191.78,501.59 L193.26,500.83 L194.74,500.11 L196.23,499.45 L197.71,498.84 L199.20,498.27 L200.68,497.75 L202.16,497.27 L203.65,496.82 L205.13,496.41 L206.61,496.04 L208.10,495.69 L209.58,495.37 L211.06,495.08 L212.55,494.82 L214.03,494.57 L215.51,494.35 L217.00,494.14 L218.48,493.95 L219.96,493.78 L221.45,493.62 L222.93,493.48" fill="none" stroke="#284C78" stroke-width="1.1"/>
<path d="M46.39,581.16 L47.87,581.13 L49.36,581.11 L50.84,581.09 L52.32,581.06 L53.81,581.03 L55.29,581.00 L56.77,580.96 L58.26,580.92 L59.74,580.88 L61.22,580.84 L62.71,580.79 L64.19,580.73 L65.68,580.68 L67.16,580.61 L68.64,580.54 L70.13,580.47 L71.61,580.39 L73.09,580.30 L74.58,580.21 L76.06,580.10 L77.54,579.99 L79.03,579.87 L80.51,579.74 L81.99,579.59 L83.48,579.44 L84.96,579.27 L86.45,579.09 L87.93,578.89 L89.41,578.68 L90.90,578.44 L92.38,578.19 L93.86,577.92 L95.35,577.63 L96.83,577.31 L98.31,576.96 L99.80,576.59 L101.28,576.19 L102.76,575.76 L104.25,575.29 L105.73,574.79 L107.22,574.25 L108.70,573.67 L110.18,573.04 L111.67,572.37 L113.15,571.65 L114.63,570.88 L116.12,570.05 L117.60,569.17 L119.08,568.22 L120.57,567.22 L122.05,566.15 L123.53,565.01 L125.02,563.81 L126.50,562.53 L127.98,561.18 L129.47,559.76 L130.95,558.26 L132.44,556.69 L133.92,555.05 L135.40,553.33 L136.89,551.53 L138.37,549.67 L139.85,547.75 L141.34,545.75 L142.82,543.70 L144.30,541.59 L145.79,539.44 L147.27,537.24 L148.75,535.00 L150.24,532.73 L151.72,530.44 L153.21,528.14 L154.69,525.83 L156.17,523.52 L157.66,521.23 L159.14,518.95 L160.62,516.69 L162.11,514.47 L163.59,512.29 L165.07,510.16 L166.56,508.07 L168.04,506.05 L169.52,504.09 L171.01,502.19 L172.49,500.36 L173.97,498.60 L175.46,496.91 L176.94,495.30 L178.43,493.76 L179.91,492.30 L181.39,490.91 L182.88,489.60 L184.36,488.35 L185.84,487.18 L187.33,486.08 L188.81,485.04 L190.29,484.06 L191.78,483.14 L193.26,482.29 L194.74,481.49 L196.23,480.74 L197.71,480.04 L199.20,479.39 L200.68,478.78 L202.16,478.22 L203.65,477.70 L205.13,477.21 L206.61,476.76 L208.10,476.34 L209.58,475.96 L211.06,475.60 L212.55,475.26 L214.03,474.96 L215.51,474.67 L217.00,474.41 L218.48,474.17 L219.96,473.95 L221.45,473.74 L222.93,473.55" fill="none" stroke="#45214F" stroke-width="1.1"/>
<path d="M46.39,581.05 L47.87,581.02 L49.36,580.98 L50.84,580.95 L52.32,580.90 L53.81,580.85 L55.29,580.80 L56.77,580.75 L58.26,580.68 L59.74,580.62 L61.22,580.54 L62.71,580.46 L64.19,580.37 L65.68,580.27 L67.16,580.17 L68.64,580.05 L70.13,579.92 L71.61,579.78 L73.09,579.63 L74.58,579.46 L76.06,579.28 L77.54,579.08 L79.03,578.87 L80.51,578.63 L81.99,578.37 L83.48,578.09 L84.96,577.78 L86.45,577.44 L87.93,577.08 L89.41,576.68 L90.90,576.25 L92.38,575.78 L93.86,575.26 L95.35,574.71 L96.83,574.10 L98.31,573.45 L99.80,572.74 L101.28,571.97 L102.76,571.14 L104.25,570.24 L105.73,569.27 L107.22,568.22 L108.70,567.10 L110.18,565.89 L111.67,564.60 L113.15,563.21 L114.63,561.73 L116.12,560.15 L117.60,558.47 L119.08,556.69 L120.57,554.80 L122.05,552.81 L123.53,550.71 L125.02,548.50 L126.50,546.19 L127.98,543.78 L129.47,541.27 L130.95,538.67 L132.44,535.99 L133.92,533.22 L135.40,530.39 L136.89,527.49 L138.37,524.54 L139.85,521.56 L141.34,518.55 L142.82,515.52 L144.30,512.49 L145.79,509.47 L147.27,506.48 L148.75,503.52 L150.24,500.60 L151.72,497.74 L153.21,494.95 L154.69,492.24 L156.17,489.61 L157.66,487.07 L159.14,484.62 L160.62,482.27 L162.11,480.03 L163.59,477.89 L165.07,475.86 L166.56,473.94 L168.04,472.12 L169.52,470.40 L171.01,468.79 L172.49,467.27 L173.97,465.86 L175.46,464.53 L176.94,463.29 L178.43,462.14 L179.91,461.07 L181.39,460.07 L182.88,459.15 L184.36,458.30 L185.84,457.51 L187.33,456.78 L188.81,456.10 L190.29,455.48 L191.78,454.91 L193.26,454.38 L194.74,453.89 L196.23,453.45 L197.71,453.04 L199.20,452.66 L200.68,452.31 L202.16,452.00 L203.65,451.71 L205.13,451.44 L206.61,451.20 L208.10,450.97 L209.58,450.77 L211.06,450.58 L212.55,450.41 L214.03,450.25 L215.51,450.11 L217.00,449.97 L218.48,449.85 L219.96,449.74 L221.45,449.64 L222.93,449.55" fill="none" stroke="#E39B35" stroke-width="1.1"/>
<path d="M46.39,581.13 L47.87,581.10 L49.36,581.07 L50.84,581.04 L52.32,581.00 L53.81,580.96 L55.29,580.91 L56.77,580.86 L58.26,580.80 L59.74,580.73 L61.22,580.66 L62.71,580.58 L64.19,580.50 L65.68,580.40 L67.16,580.30 L68.64,580.18 L70.13,580.05 L71.61,579.91 L73.09,579.75 L74.58,579.57 L76.06,579.38 L77.54,579.17 L79.03,578.93 L80.51,578.67 L81.99,578.39 L83.48,578.07 L84.96,577.73 L86.45,577.34 L87.93,576.92 L89.41,576.46 L90.90,575.95 L92.38,575.39 L93.86,574.78 L95.35,574.11 L96.83,573.37 L98.31,572.56 L99.80,571.68 L101.28,570.72 L102.76,569.67 L104.25,568.53 L105.73,567.28 L107.22,565.93 L108.70,564.47 L110.18,562.89 L111.67,561.19 L113.15,559.36 L114.63,557.39 L116.12,555.29 L117.60,553.04 L119.08,550.66 L120.57,548.12 L122.05,545.45 L123.53,542.63 L125.02,539.68 L126.50,536.61 L127.98,533.41 L129.47,530.09 L130.95,526.68 L132.44,523.19 L133.92,519.63 L135.40,516.01 L136.89,512.36 L138.37,508.69 L139.85,505.02 L141.34,501.38 L142.82,497.78 L144.30,494.23 L145.79,490.76 L147.27,487.37 L148.75,484.09 L150.24,480.92 L151.72,477.88 L153.21,474.97 L154.69,472.19 L156.17,469.55 L157.66,467.06 L159.14,464.71 L160.62,462.51 L162.11,460.44 L163.59,458.51 L165.07,456.72 L166.56,455.05 L168.04,453.50 L169.52,452.07 L171.01,450.75 L172.49,449.54 L173.97,448.42 L175.46,447.40 L176.94,446.46 L178.43,445.60 L179.91,444.81 L181.39,444.09 L182.88,443.44 L184.36,442.84 L185.84,442.29 L187.33,441.80 L188.81,441.35 L190.29,440.94 L191.78,440.57 L193.26,440.23 L194.74,439.92 L196.23,439.64 L197.71,439.39 L199.20,439.16 L200.68,438.96 L202.16,438.77 L203.65,438.60 L205.13,438.44 L206.61,438.31 L208.10,438.18 L209.58,438.07 L211.06,437.96 L212.55,437.87 L214.03,437.78 L215.51,437.71 L217.00,437.64 L218.48,437.58 L219.96,437.52 L221.45,437.47 L222.93,437.42" fill="none" stroke="#3A8C50" stroke-width="1.1"/>
<path d="M46.39,580.95 L47.87,580.91 L49.36,580.86 L50.84,580.80 L52.32,580.74 L53.81,580.68 L55.29,580.60 L56.77,580.52 L58.26,580.44 L59.74,580.34 L61.22,580.23 L62.71,580.12 L64.19,579.99 L65.68,579.85 L67.16,579.70 L68.64,579.53 L70.13,579.34 L71.61,579.14 L73.09,578.91 L74.58,578.66 L76.06,578.39 L77.54,578.10 L79.03,577.77 L80.51,577.42 L81.99,577.03 L83.48,576.60 L84.96,576.14 L86.45,575.63 L87.93,575.07 L89.41,574.46 L90.90,573.80 L92.38,573.07 L93.86,572.29 L95.35,571.43 L96.83,570.50 L98.31,569.49 L99.80,568.39 L101.28,567.20 L102.76,565.92 L104.25,564.54 L105.73,563.05 L107.22,561.45 L108.70,559.73 L110.18,557.89 L111.67,555.93 L113.15,553.83 L114.63,551.61 L116.12,549.26 L117.60,546.77 L119.08,544.15 L120.57,541.41 L122.05,538.54 L123.53,535.55 L125.02,532.44 L126.50,529.24 L127.98,525.94 L129.47,522.56 L130.95,519.11 L132.44,515.60 L133.92,512.06 L135.40,508.49 L136.89,504.91 L138.37,501.34 L139.85,497.80 L141.34,494.30 L142.82,490.86 L144.30,487.49 L145.79,484.19 L147.27,481.00 L148.75,477.91 L150.24,474.93 L151.72,472.07 L153.21,469.34 L154.69,466.74 L156.17,464.27 L157.66,461.93 L159.14,459.72 L160.62,457.64 L162.11,455.69 L163.59,453.87 L165.07,452.16 L166.56,450.57 L168.04,449.09 L169.52,447.72 L171.01,446.45 L172.49,445.28 L173.97,444.19 L175.46,443.19 L176.94,442.26 L178.43,441.42 L179.91,440.63 L181.39,439.92 L182.88,439.26 L184.36,438.66 L185.84,438.11 L187.33,437.60 L188.81,437.14 L190.29,436.72 L191.78,436.33 L193.26,435.98 L194.74,435.66 L196.23,435.37 L197.71,435.10 L199.20,434.85 L200.68,434.63 L202.16,434.43 L203.65,434.25 L205.13,434.08 L206.61,433.92 L208.10,433.79 L209.58,433.66 L211.06,433.54 L212.55,433.44 L214.03,433.34 L215.51,433.26 L217.00,433.18 L218.48,433.11 L219.96,433.04 L221.45,432.98 L222.93,432.93" fill="none" stroke="#A01D3A" stroke-width="1.1"/>
<polygon points="88.86,576.90 92.16,580.20 88.86,583.50 85.56,580.20" fill="#1B4F86"/>
<polygon points="115.68,571.70 118.98,575.00 115.68,578.30 112.38,575.00" fill="#1B4F86"/>
<polygon points="142.49,554.10 145.79,557.40 142.49,560.70 139.19,557.40" fill="#1B4F86"/>
<polygon points="169.30,535.10 172.60,538.40 169.30,541.70 166.00,538.40" fill="#1B4F86"/>
<line x1="196.12" y1="478.30" x2="196.12" y2="502.30" stroke="#284C78" stroke-width="1"/>
<line x1="193.12" y1="478.30" x2="199.12" y2="478.30" stroke="#284C78" stroke-width="1"/>
<line x1="193.12" y1="502.30" x2="199.12" y2="502.30" stroke="#284C78" stroke-width="1"/>
<polygon points="196.12,487.00 199.42,490.30 196.12,493.60 192.82,490.30" fill="#1B4F86"/>
<line x1="222.93" y1="474.80" x2="222.93" y2="502.80" stroke="#284C78" stroke-width="1"/>
<line x1="219.93" y1="474.80" x2="225.93" y2="474.80" stroke="#284C78" stroke-width="1"/>
<line x1="219.93" y1="502.80" x2="225.93" y2="502.80" stroke="#284C78" stroke-width="1"/>
<polygon points="222.93,485.50 226.23,488.80 222.93,492.10 219.63,488.80" fill="#1B4F86"/>
<polygon points="88.86,583.63 92.16,577.03 85.56,577.03" fill="#55206E"/>
<polygon points="115.68,570.93 118.98,564.33 112.38,564.33" fill="#55206E"/>
<polygon points="142.49,539.43 145.79,532.83 139.19,532.83" fill="#55206E"/>
<line x1="169.30" y1="496.70" x2="169.30" y2="514.10" stroke="#45214F" stroke-width="1"/>
<line x1="166.30" y1="496.70" x2="172.30" y2="496.70" stroke="#45214F" stroke-width="1"/>
<line x1="166.30" y1="514.10" x2="172.30" y2="514.10" stroke="#45214F" stroke-width="1"/>
<polygon points="169.30,509.03 172.60,502.43 166.00,502.43" fill="#55206E"/>
<line x1="196.12" y1="475.00" x2="196.12" y2="494.20" stroke="#45214F" stroke-width="1"/>
<line x1="193.12" y1="475.00" x2="199.12" y2="475.00" stroke="#45214F" stroke-width="1"/>
<line x1="193.12" y1="494.20" x2="199.12" y2="494.20" stroke="#45214F" stroke-width="1"/>
<polygon points="196.12,488.23 199.42,481.63 192.82,481.63" fill="#55206E"/>
<line x1="222.93" y1="462.10" x2="222.93" y2="486.10" stroke="#45214F" stroke-width="1"/>
<line x1="219.93" y1="462.10" x2="225.93" y2="462.10" stroke="#45214F" stroke-width="1"/>
<line x1="219.93" y1="486.10" x2="225.93" y2="486.10" stroke="#45214F" stroke-width="1"/>
<polygon points="222.93,477.73 226.23,471.13 219.63,471.13" fill="#55206E"/>
<polygon points="88.86,576.07 92.16,582.67 85.56,582.67" fill="#F5A21E"/>
<polygon points="115.68,559.57 118.98,566.17 112.38,566.17" fill="#F5A21E"/>
<polygon points="142.49,513.97 145.79,520.57 139.19,520.57" fill="#F5A21E"/>
<line x1="169.30" y1="464.60" x2="169.30" y2="479.60" stroke="#E39B35" stroke-width="1"/>
<line x1="166.30" y1="464.60" x2="172.30" y2="464.60" stroke="#E39B35" stroke-width="1"/>
<line x1="166.30" y1="479.60" x2="172.30" y2="479.60" stroke="#E39B35" stroke-width="1"/>
<polygon points="169.30,468.47 172.60,475.07 166.00,475.07" fill="#F5A21E"/>
<line x1="196.12" y1="445.80" x2="196.12" y2="473.80" stroke="#E39B35" stroke-width="1"/>
<line x1="193.12" y1="445.80" x2="199.12" y2="445.80" stroke="#E39B35" stroke-width="1"/>
<line x1="193.12" y1="473.80" x2="199.12" y2="473.80" stroke="#E39B35" stroke-width="1"/>
<polygon points="196.12,456.17 199.42,462.77 192.82,462.77" fill="#F5A21E"/>
<line x1="222.93" y1="444.20" x2="222.93" y2="454.20" stroke="#E39B35" stroke-width="1"/>
<line x1="219.93" y1="444.20" x2="225.93" y2="444.20" stroke="#E39B35" stroke-width="1"/>
<line x1="219.93" y1="454.20" x2="225.93" y2="454.20" stroke="#E39B35" stroke-width="1"/>
<polygon points="222.93,445.57 226.23,452.17 219.63,452.17" fill="#F5A21E"/>
<rect x="59.05" y="577.30" width="6.00" height="6.00" fill="#34A843"/>
<rect x="85.86" y="574.70" width="6.00" height="6.00" fill="#34A843"/>
<rect x="112.68" y="554.40" width="6.00" height="6.00" fill="#34A843"/>
<rect x="139.49" y="497.40" width="6.00" height="6.00" fill="#34A843"/>
<line x1="169.30" y1="446.80" x2="169.30" y2="462.80" stroke="#3A8C50" stroke-width="1"/>
<line x1="166.30" y1="446.80" x2="172.30" y2="446.80" stroke="#3A8C50" stroke-width="1"/>
<line x1="166.30" y1="462.80" x2="172.30" y2="462.80" stroke="#3A8C50" stroke-width="1"/>
<rect x="166.30" y="451.80" width="6.00" height="6.00" fill="#34A843"/>
<line x1="196.12" y1="436.80" x2="196.12" y2="446.80" stroke="#3A8C50" stroke-width="1"/>
<line x1="193.12" y1="436.80" x2="199.12" y2="436.80" stroke="#3A8C50" stroke-width="1"/>
<line x1="193.12" y1="446.80" x2="199.12" y2="446.80" stroke="#3A8C50" stroke-width="1"/>
<rect x="193.12" y="438.80" width="6.00" height="6.00" fill="#34A843"/>
<line x1="222.93" y1="417.30" x2="222.93" y2="453.30" stroke="#3A8C50" stroke-width="1"/>
<line x1="219.93" y1="417.30" x2="225.93" y2="417.30" stroke="#3A8C50" stroke-width="1"/>
<line x1="219.93" y1="453.30" x2="225.93" y2="453.30" stroke="#3A8C50" stroke-width="1"/>
<rect x="219.93" y="432.30" width="6.00" height="6.00" fill="#34A843"/>
<circle cx="62.05" cy="580.30" r="3.30" fill="#C8102E"/>
<circle cx="88.86" cy="573.30" r="3.30" fill="#C8102E"/>
<circle cx="115.68" cy="550.50" r="3.30" fill="#C8102E"/>
<circle cx="142.49" cy="492.30" r="3.30" fill="#C8102E"/>
<line x1="169.30" y1="434.60" x2="169.30" y2="445.20" stroke="#A01D3A" stroke-width="1"/>
<line x1="166.30" y1="434.60" x2="172.30" y2="434.60" stroke="#A01D3A" stroke-width="1"/>
<line x1="166.30" y1="445.20" x2="172.30" y2="445.20" stroke="#A01D3A" stroke-width="1"/>
<circle cx="169.30" cy="439.90" r="3.30" fill="#C8102E"/>
<line x1="196.12" y1="412.50" x2="196.12" y2="433.50" stroke="#A01D3A" stroke-width="1"/>
<line x1="193.12" y1="412.50" x2="199.12" y2="412.50" stroke="#A01D3A" stroke-width="1"/>
<line x1="193.12" y1="433.50" x2="199.12" y2="433.50" stroke="#A01D3A" stroke-width="1"/>
<circle cx="196.12" cy="423.00" r="3.30" fill="#C8102E"/>
<line x1="222.93" y1="434.00" x2="222.93" y2="464.00" stroke="#A01D3A" stroke-width="1"/>
<line x1="219.93" y1="434.00" x2="225.93" y2="434.00" stroke="#A01D3A" stroke-width="1"/>
<line x1="219.93" y1="464.00" x2="225.93" y2="464.00" stroke="#A01D3A" stroke-width="1"/>
<circle cx="222.93" cy="449.00" r="3.30" fill="#C8102E"/>
<line x1="46.00" y1="407.50" x2="55.40" y2="407.50" stroke="#A01D3A" stroke-width="1"/>
<circle cx="50.70" cy="407.50" r="2.90" fill="#C8102E"/>
<text x="58.70" y="410.50" font-size="8.7" text-anchor="start" font-weight="normal" fill="#333" textLength="50.1" lengthAdjust="spacingAndGlyphs" >[scFv3-1] 0 nM</text>
<line x1="46.00" y1="418.80" x2="55.40" y2="418.80" stroke="#3A8C50" stroke-width="1"/>
<rect x="48.00" y="416.10" width="5.40" height="5.40" fill="#34A843"/>
<text x="58.70" y="421.80" font-size="8.7" text-anchor="start" font-weight="normal" fill="#333" textLength="60.5" lengthAdjust="spacingAndGlyphs" >[scFv3-1] 1.11 nM</text>
<line x1="46.00" y1="430.10" x2="55.40" y2="430.10" stroke="#E39B35" stroke-width="1"/>
<polygon points="50.70,426.91 53.60,432.71 47.80,432.71" fill="#F5A21E"/>
<text x="58.70" y="433.10" font-size="8.7" text-anchor="start" font-weight="normal" fill="#333" textLength="60.5" lengthAdjust="spacingAndGlyphs" >[scFv3-1] 3.33 nM</text>
<line x1="46.00" y1="441.40" x2="55.40" y2="441.40" stroke="#45214F" stroke-width="1"/>
<polygon points="50.70,444.59 53.60,438.79 47.80,438.79" fill="#55206E"/>
<text x="58.70" y="444.40" font-size="8.7" text-anchor="start" font-weight="normal" fill="#333" textLength="54.5" lengthAdjust="spacingAndGlyphs" >[scFv3-1] 10 nM</text>
<line x1="46.00" y1="452.70" x2="55.40" y2="452.70" stroke="#284C78" stroke-width="1"/>
<polygon points="50.70,449.80 53.60,452.70 50.70,455.60 47.80,452.70" fill="#1B4F86"/>
<text x="58.70" y="455.70" font-size="8.7" text-anchor="start" font-weight="normal" fill="#333" textLength="54.5" lengthAdjust="spacingAndGlyphs" >[scFv3-1] 30 nM</text>
<text x="284.70" y="383.10" font-size="12" text-anchor="start" font-weight="bold" fill="#000" style="stroke:#000;stroke-width:0.4px">E</text>
<line x1="316.50" y1="396.60" x2="316.50" y2="581.40" stroke="#222" stroke-width="1.15"/>
<line x1="316.50" y1="581.40" x2="504.50" y2="581.40" stroke="#222" stroke-width="1.1"/>
<line x1="313.30" y1="581.40" x2="316.50" y2="581.40" stroke="#222" stroke-width="1"/>
<text x="309.70" y="584.20" font-size="8.6" text-anchor="end" font-weight="normal" fill="#333" textLength="12.1" lengthAdjust="spacingAndGlyphs" >0.0</text>
<line x1="313.30" y1="544.90" x2="316.50" y2="544.90" stroke="#222" stroke-width="1"/>
<text x="309.70" y="547.70" font-size="8.6" text-anchor="end" font-weight="normal" fill="#333" textLength="12.1" lengthAdjust="spacingAndGlyphs" >0.5</text>
<line x1="313.30" y1="508.40" x2="316.50" y2="508.40" stroke="#222" stroke-width="1"/>
<text x="309.70" y="511.20" font-size="8.6" text-anchor="end" font-weight="normal" fill="#333" textLength="12.1" lengthAdjust="spacingAndGlyphs" >1.0</text>
<line x1="313.30" y1="471.90" x2="316.50" y2="471.90" stroke="#222" stroke-width="1"/>
<text x="309.70" y="474.70" font-size="8.6" text-anchor="end" font-weight="normal" fill="#333" textLength="12.1" lengthAdjust="spacingAndGlyphs" >1.5</text>
<line x1="313.30" y1="435.40" x2="316.50" y2="435.40" stroke="#222" stroke-width="1"/>
<text x="309.70" y="438.20" font-size="8.6" text-anchor="end" font-weight="normal" fill="#333" textLength="12.1" lengthAdjust="spacingAndGlyphs" >2.0</text>
<line x1="313.30" y1="398.90" x2="316.50" y2="398.90" stroke="#222" stroke-width="1"/>
<text x="309.70" y="401.70" font-size="8.6" text-anchor="end" font-weight="normal" fill="#333" textLength="12.1" lengthAdjust="spacingAndGlyphs" >2.5</text>
<line x1="316.50" y1="581.40" x2="316.50" y2="584.20" stroke="#222" stroke-width="0.9"/>
<line x1="332.51" y1="581.40" x2="332.51" y2="584.20" stroke="#222" stroke-width="0.9"/>
<line x1="341.88" y1="581.40" x2="341.88" y2="584.20" stroke="#222" stroke-width="0.9"/>
<line x1="348.53" y1="581.40" x2="348.53" y2="584.20" stroke="#222" stroke-width="0.9"/>
<line x1="353.69" y1="581.40" x2="353.69" y2="584.20" stroke="#222" stroke-width="0.9"/>
<line x1="357.90" y1="581.40" x2="357.90" y2="584.20" stroke="#222" stroke-width="0.9"/>
<line x1="361.46" y1="581.40" x2="361.46" y2="584.20" stroke="#222" stroke-width="0.9"/>
<line x1="364.54" y1="581.40" x2="364.54" y2="584.20" stroke="#222" stroke-width="0.9"/>
<line x1="367.27" y1="581.40" x2="367.27" y2="584.20" stroke="#222" stroke-width="0.9"/>
<line x1="369.70" y1="581.40" x2="369.70" y2="584.20" stroke="#222" stroke-width="0.9"/>
<line x1="385.71" y1="581.40" x2="385.71" y2="584.20" stroke="#222" stroke-width="0.9"/>
<line x1="395.08" y1="581.40" x2="395.08" y2="584.20" stroke="#222" stroke-width="0.9"/>
<line x1="401.73" y1="581.40" x2="401.73" y2="584.20" stroke="#222" stroke-width="0.9"/>
<line x1="406.89" y1="581.40" x2="406.89" y2="584.20" stroke="#222" stroke-width="0.9"/>
<line x1="411.10" y1="581.40" x2="411.10" y2="584.20" stroke="#222" stroke-width="0.9"/>
<line x1="414.66" y1="581.40" x2="414.66" y2="584.20" stroke="#222" stroke-width="0.9"/>
<line x1="417.74" y1="581.40" x2="417.74" y2="584.20" stroke="#222" stroke-width="0.9"/>
<line x1="420.47" y1="581.40" x2="420.47" y2="584.20" stroke="#222" stroke-width="0.9"/>
<line x1="422.90" y1="581.40" x2="422.90" y2="584.20" stroke="#222" stroke-width="0.9"/>
<line x1="438.91" y1="581.40" x2="438.91" y2="584.20" stroke="#222" stroke-width="0.9"/>
<line x1="448.28" y1="581.40" x2="448.28" y2="584.20" stroke="#222" stroke-width="0.9"/>
<line x1="454.93" y1="581.40" x2="454.93" y2="584.20" stroke="#222" stroke-width="0.9"/>
<line x1="460.09" y1="581.40" x2="460.09" y2="584.20" stroke="#222" stroke-width="0.9"/>
<line x1="464.30" y1="581.40" x2="464.30" y2="584.20" stroke="#222" stroke-width="0.9"/>
<line x1="467.86" y1="581.40" x2="467.86" y2="584.20" stroke="#222" stroke-width="0.9"/>
<line x1="470.94" y1="581.40" x2="470.94" y2="584.20" stroke="#222" stroke-width="0.9"/>
<line x1="473.67" y1="581.40" x2="473.67" y2="584.20" stroke="#222" stroke-width="0.9"/>
<line x1="476.10" y1="581.40" x2="476.10" y2="584.20" stroke="#222" stroke-width="0.9"/>
<line x1="492.11" y1="581.40" x2="492.11" y2="584.20" stroke="#222" stroke-width="0.9"/>
<line x1="501.48" y1="581.40" x2="501.48" y2="584.20" stroke="#222" stroke-width="0.9"/>
<text x="316.50" y="594.80" font-size="8.6" text-anchor="middle" font-weight="normal" fill="#333" >0.01</text>
<text x="369.70" y="594.80" font-size="8.6" text-anchor="middle" font-weight="normal" fill="#333" >0.1</text>
<text x="422.90" y="594.80" font-size="8.6" text-anchor="middle" font-weight="normal" fill="#333" >1</text>
<text x="476.10" y="594.80" font-size="8.6" text-anchor="middle" font-weight="normal" fill="#333" >10</text>
<text x="501.48" y="594.80" font-size="8.6" text-anchor="middle" font-weight="normal" fill="#333" >30</text>
<text x="408.90" y="608.20" font-size="9.3" text-anchor="middle" font-weight="normal" fill="#333" textLength="72.7" lengthAdjust="spacingAndGlyphs" style="stroke-width:0.35px">[FRETS-VWF73] (μM)</text>
<text x="0" y="0" font-size="9.3" text-anchor="middle" fill="#333" textLength="63.3" lengthAdjust="spacingAndGlyphs" style="stroke-width:0.35px" transform="translate(293.00,489.40) rotate(-90)">Velocity (ΔFU/sec)</text>
<path d="M337.38,580.71 L338.66,580.65 L339.94,580.59 L341.22,580.52 L342.50,580.44 L343.78,580.36 L345.06,580.28 L346.34,580.18 L347.62,580.08 L348.90,579.97 L350.18,579.85 L351.46,579.72 L352.74,579.58 L354.02,579.43 L355.30,579.27 L356.58,579.09 L357.86,578.90 L359.14,578.70 L360.42,578.48 L361.70,578.24 L362.98,577.98 L364.26,577.70 L365.54,577.41 L366.82,577.09 L368.10,576.74 L369.38,576.37 L370.66,575.97 L371.94,575.55 L373.22,575.09 L374.50,574.60 L375.78,574.08 L377.06,573.52 L378.34,572.92 L379.62,572.29 L380.90,571.61 L382.18,570.89 L383.46,570.13 L384.74,569.32 L386.02,568.47 L387.30,567.56 L388.58,566.61 L389.86,565.61 L391.14,564.56 L392.42,563.46 L393.69,562.32 L394.97,561.12 L396.25,559.88 L397.53,558.59 L398.81,557.25 L400.09,555.88 L401.37,554.47 L402.65,553.02 L403.93,551.54 L405.21,550.03 L406.49,548.50 L407.77,546.95 L409.05,545.38 L410.33,543.81 L411.61,542.24 L412.89,540.66 L414.17,539.10 L415.45,537.54 L416.73,536.00 L418.01,534.49 L419.29,533.00 L420.57,531.54 L421.85,530.11 L423.13,528.72 L424.41,527.38 L425.69,526.07 L426.97,524.82 L428.25,523.60 L429.53,522.44 L430.81,521.32 L432.09,520.26 L433.37,519.24 L434.65,518.28 L435.93,517.36 L437.21,516.49 L438.49,515.66 L439.77,514.89 L441.05,514.15 L442.33,513.46 L443.61,512.81 L444.89,512.20 L446.17,511.63 L447.45,511.10 L448.73,510.60 L450.01,510.13 L451.29,509.70 L452.57,509.29 L453.85,508.91 L455.13,508.56 L456.41,508.23 L457.69,507.92 L458.97,507.64 L460.24,507.38 L461.52,507.13 L462.80,506.91 L464.08,506.70 L465.36,506.50 L466.64,506.32 L467.92,506.16 L469.20,506.00 L470.48,505.86 L471.76,505.73 L473.04,505.60 L474.32,505.49 L475.60,505.39 L476.88,505.29 L478.16,505.20 L479.44,505.12 L480.72,505.04 L482.00,504.97 L483.28,504.91 L484.56,504.85 L485.84,504.79 L487.12,504.74 L488.40,504.69 L489.68,504.65" fill="none" stroke="#284C78" stroke-width="1.1"/>
<path d="M337.38,580.47 L338.66,580.38 L339.94,580.28 L341.22,580.18 L342.50,580.06 L343.78,579.94 L345.06,579.80 L346.34,579.65 L347.62,579.48 L348.90,579.30 L350.18,579.11 L351.46,578.89 L352.74,578.66 L354.02,578.41 L355.30,578.13 L356.58,577.83 L357.86,577.50 L359.14,577.14 L360.42,576.75 L361.70,576.33 L362.98,575.87 L364.26,575.37 L365.54,574.83 L366.82,574.24 L368.10,573.61 L369.38,572.92 L370.66,572.18 L371.94,571.38 L373.22,570.52 L374.50,569.59 L375.78,568.60 L377.06,567.53 L378.34,566.38 L379.62,565.16 L380.90,563.86 L382.18,562.47 L383.46,560.99 L384.74,559.43 L386.02,557.78 L387.30,556.04 L388.58,554.21 L389.86,552.29 L391.14,550.29 L392.42,548.21 L393.69,546.05 L394.97,543.81 L396.25,541.51 L397.53,539.14 L398.81,536.73 L400.09,534.27 L401.37,531.77 L402.65,529.25 L403.93,526.72 L405.21,524.18 L406.49,521.65 L407.77,519.13 L409.05,516.64 L410.33,514.18 L411.61,511.77 L412.89,509.42 L414.17,507.12 L415.45,504.90 L416.73,502.75 L418.01,500.67 L419.29,498.68 L420.57,496.78 L421.85,494.96 L423.13,493.23 L424.41,491.59 L425.69,490.04 L426.97,488.58 L428.25,487.20 L429.53,485.91 L430.81,484.69 L432.09,483.56 L433.37,482.50 L434.65,481.51 L435.93,480.59 L437.21,479.74 L438.49,478.95 L439.77,478.21 L441.05,477.53 L442.33,476.91 L443.61,476.33 L444.89,475.79 L446.17,475.30 L447.45,474.84 L448.73,474.42 L450.01,474.04 L451.29,473.69 L452.57,473.36 L453.85,473.06 L455.13,472.79 L456.41,472.54 L457.69,472.31 L458.97,472.10 L460.24,471.90 L461.52,471.72 L462.80,471.56 L464.08,471.41 L465.36,471.28 L466.64,471.15 L467.92,471.04 L469.20,470.93 L470.48,470.84 L471.76,470.75 L473.04,470.67 L474.32,470.60 L475.60,470.53 L476.88,470.47 L478.16,470.42 L479.44,470.37 L480.72,470.32 L482.00,470.28 L483.28,470.24 L484.56,470.20 L485.84,470.17 L487.12,470.14 L488.40,470.11 L489.68,470.09" fill="none" stroke="#45214F" stroke-width="1.1"/>
<path d="M337.38,580.34 L338.66,580.23 L339.94,580.12 L341.22,580.00 L342.50,579.86 L343.78,579.72 L345.06,579.55 L346.34,579.38 L347.62,579.18 L348.90,578.97 L350.18,578.74 L351.46,578.48 L352.74,578.21 L354.02,577.91 L355.30,577.57 L356.58,577.21 L357.86,576.82 L359.14,576.39 L360.42,575.92 L361.70,575.42 L362.98,574.86 L364.26,574.26 L365.54,573.61 L366.82,572.90 L368.10,572.13 L369.38,571.29 L370.66,570.39 L371.94,569.42 L373.22,568.37 L374.50,567.24 L375.78,566.02 L377.06,564.72 L378.34,563.32 L379.62,561.82 L380.90,560.23 L382.18,558.53 L383.46,556.72 L384.74,554.81 L386.02,552.79 L387.30,550.67 L388.58,548.44 L389.86,546.10 L391.14,543.66 L392.42,541.13 L393.69,538.50 L394.97,535.79 L396.25,533.01 L397.53,530.16 L398.81,527.25 L400.09,524.30 L401.37,521.32 L402.65,518.31 L403.93,515.30 L405.21,512.30 L406.49,509.31 L407.77,506.35 L409.05,503.44 L410.33,500.58 L411.61,497.79 L412.89,495.07 L414.17,492.43 L415.45,489.89 L416.73,487.44 L418.01,485.09 L419.29,482.84 L420.57,480.70 L421.85,478.67 L423.13,476.74 L424.41,474.92 L425.69,473.21 L426.97,471.60 L428.25,470.09 L429.53,468.68 L430.81,467.36 L432.09,466.14 L433.37,464.99 L434.65,463.93 L435.93,462.95 L437.21,462.04 L438.49,461.20 L439.77,460.42 L441.05,459.70 L442.33,459.04 L443.61,458.43 L444.89,457.88 L446.17,457.36 L447.45,456.89 L448.73,456.45 L450.01,456.06 L451.29,455.69 L452.57,455.36 L453.85,455.05 L455.13,454.77 L456.41,454.51 L457.69,454.28 L458.97,454.06 L460.24,453.87 L461.52,453.69 L462.80,453.53 L464.08,453.38 L465.36,453.24 L466.64,453.11 L467.92,453.00 L469.20,452.90 L470.48,452.80 L471.76,452.72 L473.04,452.64 L474.32,452.56 L475.60,452.50 L476.88,452.44 L478.16,452.38 L479.44,452.33 L480.72,452.29 L482.00,452.25 L483.28,452.21 L484.56,452.17 L485.84,452.14 L487.12,452.11 L488.40,452.09 L489.68,452.06" fill="none" stroke="#E39B35" stroke-width="1.1"/>
<path d="M337.38,580.30 L338.66,580.19 L339.94,580.08 L341.22,579.95 L342.50,579.81 L343.78,579.66 L345.06,579.49 L346.34,579.31 L347.62,579.11 L348.90,578.89 L350.18,578.65 L351.46,578.39 L352.74,578.11 L354.02,577.80 L355.30,577.46 L356.58,577.09 L357.86,576.68 L359.14,576.24 L360.42,575.76 L361.70,575.24 L362.98,574.67 L364.26,574.05 L365.54,573.38 L366.82,572.66 L368.10,571.87 L369.38,571.01 L370.66,570.09 L371.94,569.09 L373.22,568.02 L374.50,566.86 L375.78,565.61 L377.06,564.27 L378.34,562.84 L379.62,561.30 L380.90,559.67 L382.18,557.92 L383.46,556.07 L384.74,554.11 L386.02,552.03 L387.30,549.85 L388.58,547.55 L389.86,545.15 L391.14,542.64 L392.42,540.03 L393.69,537.32 L394.97,534.53 L396.25,531.65 L397.53,528.70 L398.81,525.70 L400.09,522.64 L401.37,519.55 L402.65,516.43 L403.93,513.30 L405.21,510.17 L406.49,507.06 L407.77,503.97 L409.05,500.93 L410.33,497.94 L411.61,495.01 L412.89,492.16 L414.17,489.40 L415.45,486.72 L416.73,484.14 L418.01,481.66 L419.29,479.29 L420.57,477.03 L421.85,474.88 L423.13,472.84 L424.41,470.91 L425.69,469.10 L426.97,467.39 L428.25,465.78 L429.53,464.28 L430.81,462.88 L432.09,461.57 L433.37,460.35 L434.65,459.22 L435.93,458.16 L437.21,457.19 L438.49,456.29 L439.77,455.46 L441.05,454.69 L442.33,453.98 L443.61,453.32 L444.89,452.72 L446.17,452.17 L447.45,451.66 L448.73,451.19 L450.01,450.77 L451.29,450.37 L452.57,450.01 L453.85,449.68 L455.13,449.38 L456.41,449.10 L457.69,448.85 L458.97,448.62 L460.24,448.40 L461.52,448.21 L462.80,448.03 L464.08,447.87 L465.36,447.72 L466.64,447.59 L467.92,447.46 L469.20,447.35 L470.48,447.25 L471.76,447.15 L473.04,447.07 L474.32,446.99 L475.60,446.92 L476.88,446.85 L478.16,446.79 L479.44,446.74 L480.72,446.69 L482.00,446.65 L483.28,446.60 L484.56,446.57 L485.84,446.53 L487.12,446.50 L488.40,446.47 L489.68,446.45" fill="none" stroke="#3A8C50" stroke-width="1.1"/>
<path d="M337.38,580.27 L338.66,580.17 L339.94,580.05 L341.22,579.92 L342.50,579.77 L343.78,579.62 L345.06,579.45 L346.34,579.26 L347.62,579.06 L348.90,578.83 L350.18,578.59 L351.46,578.32 L352.74,578.03 L354.02,577.71 L355.30,577.36 L356.58,576.98 L357.86,576.57 L359.14,576.12 L360.42,575.63 L361.70,575.09 L362.98,574.51 L364.26,573.88 L365.54,573.19 L366.82,572.44 L368.10,571.64 L369.38,570.76 L370.66,569.81 L371.94,568.79 L373.22,567.69 L374.50,566.50 L375.78,565.22 L377.06,563.85 L378.34,562.38 L379.62,560.81 L380.90,559.13 L382.18,557.35 L383.46,555.45 L384.74,553.44 L386.02,551.32 L387.30,549.08 L388.58,546.74 L389.86,544.28 L391.14,541.71 L392.42,539.04 L393.69,536.27 L394.97,533.41 L396.25,530.48 L397.53,527.47 L398.81,524.40 L400.09,521.28 L401.37,518.12 L402.65,514.94 L403.93,511.75 L405.21,508.56 L406.49,505.39 L407.77,502.25 L409.05,499.15 L410.33,496.11 L411.61,493.14 L412.89,490.24 L414.17,487.43 L415.45,484.71 L416.73,482.09 L418.01,479.57 L419.29,477.17 L420.57,474.88 L421.85,472.70 L423.13,470.63 L424.41,468.68 L425.69,466.84 L426.97,465.11 L428.25,463.48 L429.53,461.96 L430.81,460.54 L432.09,459.22 L433.37,457.99 L434.65,456.84 L435.93,455.78 L437.21,454.80 L438.49,453.89 L439.77,453.05 L441.05,452.27 L442.33,451.55 L443.61,450.89 L444.89,450.29 L446.17,449.73 L447.45,449.22 L448.73,448.74 L450.01,448.31 L451.29,447.92 L452.57,447.55 L453.85,447.22 L455.13,446.91 L456.41,446.64 L457.69,446.38 L458.97,446.15 L460.24,445.93 L461.52,445.74 L462.80,445.56 L464.08,445.40 L465.36,445.25 L466.64,445.11 L467.92,444.99 L469.20,444.87 L470.48,444.77 L471.76,444.68 L473.04,444.59 L474.32,444.51 L475.60,444.44 L476.88,444.37 L478.16,444.31 L479.44,444.26 L480.72,444.21 L482.00,444.16 L483.28,444.12 L484.56,444.08 L485.84,444.05 L487.12,444.02 L488.40,443.99 L489.68,443.96" fill="none" stroke="#A01D3A" stroke-width="1.1"/>
<polygon points="337.38,577.20 340.68,580.50 337.38,583.80 334.08,580.50" fill="#1B4F86"/>
<polygon points="362.77,574.40 366.07,577.70 362.77,581.00 359.47,577.70" fill="#1B4F86"/>
<polygon points="388.15,562.80 391.45,566.10 388.15,569.40 384.85,566.10" fill="#1B4F86"/>
<line x1="413.53" y1="536.70" x2="413.53" y2="546.90" stroke="#284C78" stroke-width="1"/>
<line x1="410.53" y1="536.70" x2="416.53" y2="536.70" stroke="#284C78" stroke-width="1"/>
<line x1="410.53" y1="546.90" x2="416.53" y2="546.90" stroke="#284C78" stroke-width="1"/>
<polygon points="413.53,538.50 416.83,541.80 413.53,545.10 410.23,541.80" fill="#1B4F86"/>
<line x1="438.91" y1="507.00" x2="438.91" y2="515.00" stroke="#284C78" stroke-width="1"/>
<line x1="435.91" y1="507.00" x2="441.91" y2="507.00" stroke="#284C78" stroke-width="1"/>
<line x1="435.91" y1="515.00" x2="441.91" y2="515.00" stroke="#284C78" stroke-width="1"/>
<polygon points="438.91,507.70 442.21,511.00 438.91,514.30 435.61,511.00" fill="#1B4F86"/>
<line x1="464.30" y1="483.00" x2="464.30" y2="498.40" stroke="#284C78" stroke-width="1"/>
<line x1="461.30" y1="483.00" x2="467.30" y2="483.00" stroke="#284C78" stroke-width="1"/>
<line x1="461.30" y1="498.40" x2="467.30" y2="498.40" stroke="#284C78" stroke-width="1"/>
<polygon points="464.30,487.40 467.60,490.70 464.30,494.00 461.00,490.70" fill="#1B4F86"/>
<line x1="489.68" y1="514.80" x2="489.68" y2="531.40" stroke="#284C78" stroke-width="1"/>
<line x1="486.68" y1="514.80" x2="492.68" y2="514.80" stroke="#284C78" stroke-width="1"/>
<line x1="486.68" y1="531.40" x2="492.68" y2="531.40" stroke="#284C78" stroke-width="1"/>
<polygon points="489.68,519.80 492.98,523.10 489.68,526.40 486.38,523.10" fill="#1B4F86"/>
<polygon points="362.77,577.63 366.07,571.03 359.47,571.03" fill="#55206E"/>
<polygon points="388.15,555.53 391.45,548.93 384.85,548.93" fill="#55206E"/>
<line x1="413.53" y1="508.00" x2="413.53" y2="519.60" stroke="#45214F" stroke-width="1"/>
<line x1="410.53" y1="508.00" x2="416.53" y2="508.00" stroke="#45214F" stroke-width="1"/>
<line x1="410.53" y1="519.60" x2="416.53" y2="519.60" stroke="#45214F" stroke-width="1"/>
<polygon points="413.53,517.43 416.83,510.83 410.23,510.83" fill="#55206E"/>
<line x1="438.91" y1="467.90" x2="438.91" y2="480.90" stroke="#45214F" stroke-width="1"/>
<line x1="435.91" y1="467.90" x2="441.91" y2="467.90" stroke="#45214F" stroke-width="1"/>
<line x1="435.91" y1="480.90" x2="441.91" y2="480.90" stroke="#45214F" stroke-width="1"/>
<polygon points="438.91,478.03 442.21,471.43 435.61,471.43" fill="#55206E"/>
<line x1="464.30" y1="448.70" x2="464.30" y2="462.30" stroke="#45214F" stroke-width="1"/>
<line x1="461.30" y1="448.70" x2="467.30" y2="448.70" stroke="#45214F" stroke-width="1"/>
<line x1="461.30" y1="462.30" x2="467.30" y2="462.30" stroke="#45214F" stroke-width="1"/>
<polygon points="464.30,459.13 467.60,452.53 461.00,452.53" fill="#55206E"/>
<line x1="489.68" y1="478.20" x2="489.68" y2="489.80" stroke="#45214F" stroke-width="1"/>
<line x1="486.68" y1="478.20" x2="492.68" y2="478.20" stroke="#45214F" stroke-width="1"/>
<line x1="486.68" y1="489.80" x2="492.68" y2="489.80" stroke="#45214F" stroke-width="1"/>
<polygon points="489.68,487.63 492.98,481.03 486.38,481.03" fill="#55206E"/>
<polygon points="388.15,543.37 391.45,549.97 384.85,549.97" fill="#F5A21E"/>
<polygon points="413.53,495.37 416.83,501.97 410.23,501.97" fill="#F5A21E"/>
<polygon points="438.91,454.97 442.21,461.57 435.61,461.57" fill="#F5A21E"/>
<polygon points="464.30,439.87 467.60,446.47 461.00,446.47" fill="#F5A21E"/>
<line x1="489.68" y1="460.10" x2="489.68" y2="472.70" stroke="#E39B35" stroke-width="1"/>
<line x1="486.68" y1="460.10" x2="492.68" y2="460.10" stroke="#E39B35" stroke-width="1"/>
<line x1="486.68" y1="472.70" x2="492.68" y2="472.70" stroke="#E39B35" stroke-width="1"/>
<polygon points="489.68,462.77 492.98,469.37 486.38,469.37" fill="#F5A21E"/>
<rect x="334.38" y="576.50" width="6.00" height="6.00" fill="#34A843"/>
<rect x="359.77" y="569.50" width="6.00" height="6.00" fill="#34A843"/>
<rect x="385.15" y="542.20" width="6.00" height="6.00" fill="#34A843"/>
<rect x="410.53" y="492.40" width="6.00" height="6.00" fill="#34A843"/>
<rect x="435.91" y="447.10" width="6.00" height="6.00" fill="#34A843"/>
<rect x="461.30" y="439.50" width="6.00" height="6.00" fill="#34A843"/>
<rect x="486.68" y="457.30" width="6.00" height="6.00" fill="#34A843"/>
<circle cx="337.38" cy="578.80" r="3.30" fill="#C8102E"/>
<circle cx="362.77" cy="571.00" r="3.30" fill="#C8102E"/>
<circle cx="388.15" cy="541.80" r="3.30" fill="#C8102E"/>
<circle cx="413.53" cy="489.90" r="3.30" fill="#C8102E"/>
<line x1="438.91" y1="443.00" x2="438.91" y2="450.00" stroke="#A01D3A" stroke-width="1"/>
<line x1="435.91" y1="443.00" x2="441.91" y2="443.00" stroke="#A01D3A" stroke-width="1"/>
<line x1="435.91" y1="450.00" x2="441.91" y2="450.00" stroke="#A01D3A" stroke-width="1"/>
<circle cx="438.91" cy="446.50" r="3.30" fill="#C8102E"/>
<line x1="464.30" y1="420.20" x2="464.30" y2="446.80" stroke="#A01D3A" stroke-width="1"/>
<line x1="461.30" y1="420.20" x2="467.30" y2="420.20" stroke="#A01D3A" stroke-width="1"/>
<line x1="461.30" y1="446.80" x2="467.30" y2="446.80" stroke="#A01D3A" stroke-width="1"/>
<circle cx="464.30" cy="433.50" r="3.30" fill="#C8102E"/>
<line x1="489.68" y1="452.20" x2="489.68" y2="468.40" stroke="#A01D3A" stroke-width="1"/>
<line x1="486.68" y1="452.20" x2="492.68" y2="452.20" stroke="#A01D3A" stroke-width="1"/>
<line x1="486.68" y1="468.40" x2="492.68" y2="468.40" stroke="#A01D3A" stroke-width="1"/>
<circle cx="489.68" cy="460.30" r="3.30" fill="#C8102E"/>
<line x1="323.00" y1="409.60" x2="332.40" y2="409.60" stroke="#A01D3A" stroke-width="1"/>
<circle cx="327.70" cy="409.60" r="2.90" fill="#C8102E"/>
<text x="335.70" y="412.60" font-size="8.7" text-anchor="start" font-weight="normal" fill="#333" textLength="55" lengthAdjust="spacingAndGlyphs" >[scFv4-16] 0 nM</text>
<line x1="323.00" y1="421.10" x2="332.40" y2="421.10" stroke="#3A8C50" stroke-width="1"/>
<rect x="325.00" y="418.40" width="5.40" height="5.40" fill="#34A843"/>
<text x="335.70" y="424.10" font-size="8.7" text-anchor="start" font-weight="normal" fill="#333" textLength="65.3" lengthAdjust="spacingAndGlyphs" >[scFv4-16] 0.37 nM</text>
<line x1="323.00" y1="432.60" x2="332.40" y2="432.60" stroke="#E39B35" stroke-width="1"/>
<polygon points="327.70,429.41 330.60,435.21 324.80,435.21" fill="#F5A21E"/>
<text x="335.70" y="435.60" font-size="8.7" text-anchor="start" font-weight="normal" fill="#333" textLength="65.3" lengthAdjust="spacingAndGlyphs" >[scFv4-16] 1.11 nM</text>
<line x1="323.00" y1="444.10" x2="332.40" y2="444.10" stroke="#45214F" stroke-width="1"/>
<polygon points="327.70,447.29 330.60,441.49 324.80,441.49" fill="#55206E"/>
<text x="335.70" y="447.10" font-size="8.7" text-anchor="start" font-weight="normal" fill="#333" textLength="65.3" lengthAdjust="spacingAndGlyphs" >[scFv4-16] 3.33 nM</text>
<line x1="323.00" y1="455.60" x2="332.40" y2="455.60" stroke="#284C78" stroke-width="1"/>
<polygon points="327.70,452.70 330.60,455.60 327.70,458.50 324.80,455.60" fill="#1B4F86"/>
<text x="335.70" y="458.60" font-size="8.7" text-anchor="start" font-weight="normal" fill="#333" textLength="59.3" lengthAdjust="spacingAndGlyphs" >[scFv4-16] 10 nM</text>
<rect x="0.5" y="0.5" width="519" height="617" fill="none" stroke="#5a5a5a" stroke-width="1"/>
</svg>
</body></html>
